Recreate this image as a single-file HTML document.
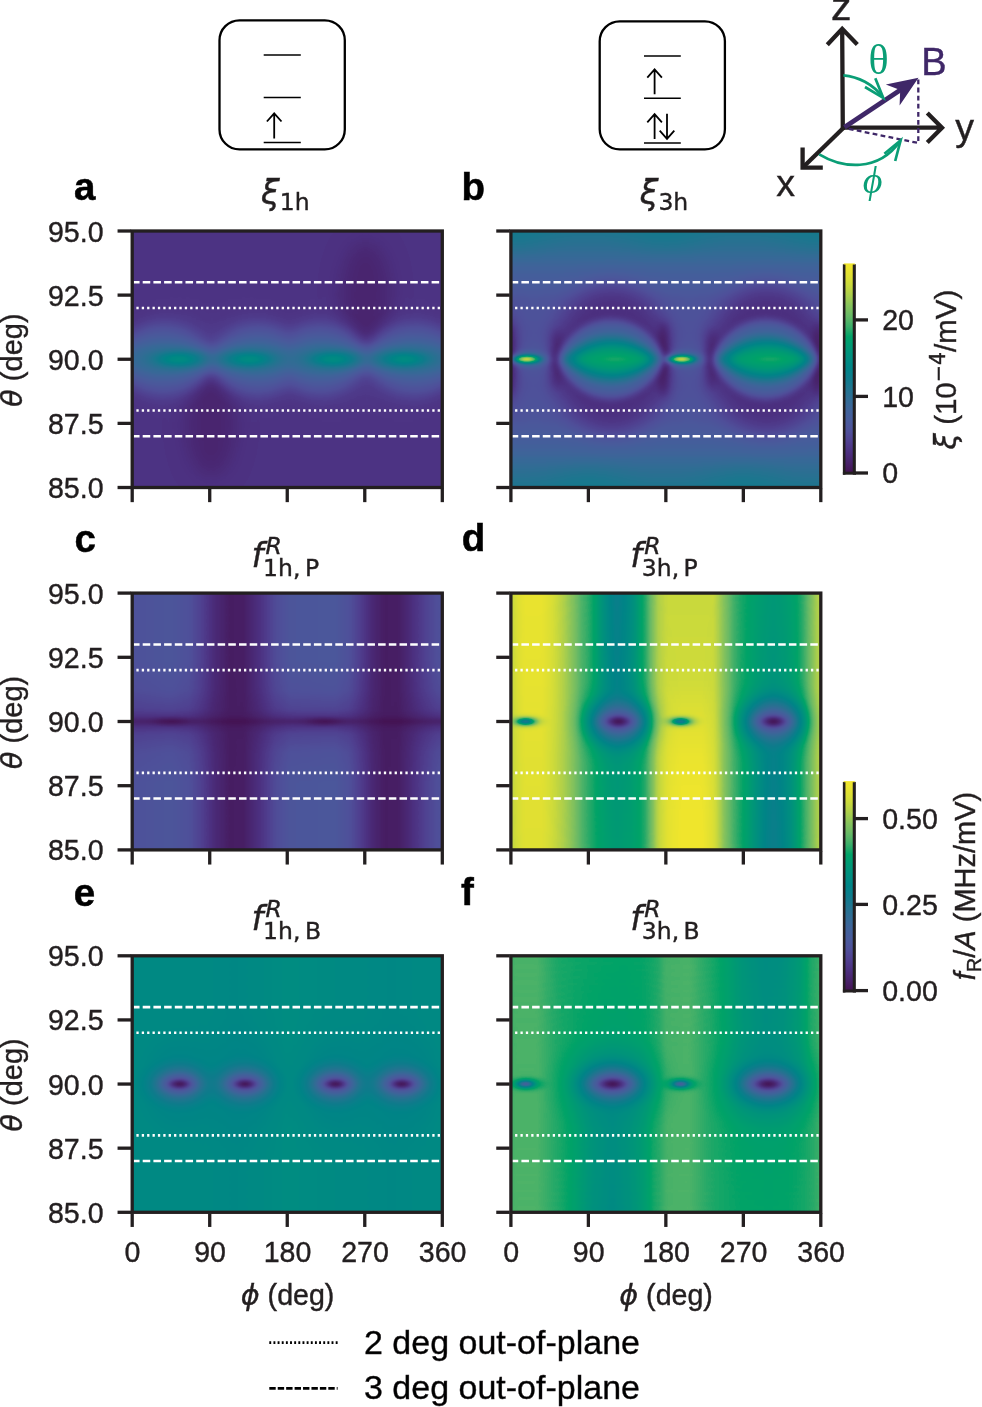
<!DOCTYPE html>
<html lang="en"><head><meta charset="utf-8"><title>Figure</title>
<style>
html,body{margin:0;padding:0;background:#fff;}
body{width:982px;height:1407px;overflow:hidden;}
svg{display:block;}
text{font-family:"Liberation Sans",sans-serif;fill:#231f20;stroke:#231f20;stroke-width:0.4px;}
.dj{font-family:"DejaVu Sans",sans-serif;}
.dji{font-family:"DejaVu Sans",sans-serif;font-style:italic;}
.ser{font-family:"Liberation Serif",serif;}
</style></head><body>
<svg width="982" height="1407" viewBox="0 0 982 1407">
<defs>
<filter id="cm" filterUnits="userSpaceOnUse" x="0" y="0" width="982" height="1407" color-interpolation-filters="sRGB">
<feGaussianBlur stdDeviation="1.5"/>
<feComponentTransfer><feFuncR type="table" tableValues="0.2667 0.2745 0.2824 0.2902 0.2980 0.3059 0.3137 0.3137 0.3098 0.2980 0.2863 0.2667 0.2510 0.2235 0.1961 0.1647 0.1333 0.0980 0.0588 0.0314 0.0000 0.0000 0.0000 0.0000 0.0000 0.0000 0.0000 0.1176 0.2353 0.3216 0.4039 0.4667 0.5294 0.6000 0.6745 0.7373 0.7961 0.8431 0.8863 0.9176 0.9490"/><feFuncG type="table" tableValues="0.0706 0.1020 0.1333 0.1608 0.1882 0.2196 0.2510 0.2824 0.3137 0.3373 0.3569 0.3725 0.3882 0.4078 0.4235 0.4392 0.4549 0.4706 0.4824 0.5020 0.5176 0.5373 0.5569 0.5765 0.5961 0.6196 0.6392 0.6588 0.6824 0.7059 0.7255 0.7451 0.7647 0.7882 0.8118 0.8314 0.8549 0.8706 0.8824 0.8941 0.9020"/><feFuncB type="table" tableValues="0.3216 0.3686 0.4157 0.4588 0.5020 0.5333 0.5647 0.5843 0.6039 0.6078 0.6118 0.6078 0.6039 0.5961 0.5843 0.5725 0.5647 0.5569 0.5490 0.5412 0.5294 0.5176 0.5020 0.4824 0.4627 0.4353 0.4078 0.4078 0.4118 0.4078 0.4000 0.3804 0.3608 0.3294 0.2980 0.2667 0.2353 0.2157 0.1961 0.1843 0.1725"/><feFuncA type="linear" slope="0" intercept="1"/></feComponentTransfer>
</filter>
<filter id="b1" filterUnits="userSpaceOnUse" x="0" y="0" width="982" height="1407" color-interpolation-filters="sRGB"><feGaussianBlur stdDeviation="1"/></filter>
<filter id="b2" filterUnits="userSpaceOnUse" x="0" y="0" width="982" height="1407" color-interpolation-filters="sRGB"><feGaussianBlur stdDeviation="2"/></filter>
<filter id="b3" filterUnits="userSpaceOnUse" x="0" y="0" width="982" height="1407" color-interpolation-filters="sRGB"><feGaussianBlur stdDeviation="3"/></filter>
<filter id="b4" filterUnits="userSpaceOnUse" x="0" y="0" width="982" height="1407" color-interpolation-filters="sRGB"><feGaussianBlur stdDeviation="4"/></filter>
<filter id="b5" filterUnits="userSpaceOnUse" x="0" y="0" width="982" height="1407" color-interpolation-filters="sRGB"><feGaussianBlur stdDeviation="5"/></filter>
<filter id="b6" filterUnits="userSpaceOnUse" x="0" y="0" width="982" height="1407" color-interpolation-filters="sRGB"><feGaussianBlur stdDeviation="6"/></filter>
<filter id="b7" filterUnits="userSpaceOnUse" x="0" y="0" width="982" height="1407" color-interpolation-filters="sRGB"><feGaussianBlur stdDeviation="7"/></filter>
<filter id="b8" filterUnits="userSpaceOnUse" x="0" y="0" width="982" height="1407" color-interpolation-filters="sRGB"><feGaussianBlur stdDeviation="8"/></filter>
<filter id="b9" filterUnits="userSpaceOnUse" x="0" y="0" width="982" height="1407" color-interpolation-filters="sRGB"><feGaussianBlur stdDeviation="9"/></filter>
<filter id="b10" filterUnits="userSpaceOnUse" x="0" y="0" width="982" height="1407" color-interpolation-filters="sRGB"><feGaussianBlur stdDeviation="10"/></filter>
<filter id="b11" filterUnits="userSpaceOnUse" x="0" y="0" width="982" height="1407" color-interpolation-filters="sRGB"><feGaussianBlur stdDeviation="11"/></filter>
<filter id="b12" filterUnits="userSpaceOnUse" x="0" y="0" width="982" height="1407" color-interpolation-filters="sRGB"><feGaussianBlur stdDeviation="12"/></filter>
<filter id="b13" filterUnits="userSpaceOnUse" x="0" y="0" width="982" height="1407" color-interpolation-filters="sRGB"><feGaussianBlur stdDeviation="13"/></filter>
<filter id="b14" filterUnits="userSpaceOnUse" x="0" y="0" width="982" height="1407" color-interpolation-filters="sRGB"><feGaussianBlur stdDeviation="14"/></filter>
<filter id="b15" filterUnits="userSpaceOnUse" x="0" y="0" width="982" height="1407" color-interpolation-filters="sRGB"><feGaussianBlur stdDeviation="15"/></filter>
<radialGradient id="rg1"><stop offset="0.000" stop-color="rgb(57,57,57)" stop-opacity="0.400"/><stop offset="0.125" stop-color="rgb(57,57,57)" stop-opacity="0.383"/><stop offset="0.250" stop-color="rgb(57,57,57)" stop-opacity="0.335"/><stop offset="0.375" stop-color="rgb(57,57,57)" stop-opacity="0.265"/><stop offset="0.500" stop-color="rgb(57,57,57)" stop-opacity="0.187"/><stop offset="0.625" stop-color="rgb(57,57,57)" stop-opacity="0.115"/><stop offset="0.750" stop-color="rgb(57,57,57)" stop-opacity="0.057"/><stop offset="0.875" stop-color="rgb(57,57,57)" stop-opacity="0.020"/><stop offset="1.000" stop-color="rgb(57,57,57)" stop-opacity="0.000"/></radialGradient>
<radialGradient id="rg2"><stop offset="0.000" stop-color="rgb(57,57,57)" stop-opacity="0.400"/><stop offset="0.125" stop-color="rgb(57,57,57)" stop-opacity="0.383"/><stop offset="0.250" stop-color="rgb(57,57,57)" stop-opacity="0.335"/><stop offset="0.375" stop-color="rgb(57,57,57)" stop-opacity="0.265"/><stop offset="0.500" stop-color="rgb(57,57,57)" stop-opacity="0.187"/><stop offset="0.625" stop-color="rgb(57,57,57)" stop-opacity="0.115"/><stop offset="0.750" stop-color="rgb(57,57,57)" stop-opacity="0.057"/><stop offset="0.875" stop-color="rgb(57,57,57)" stop-opacity="0.020"/><stop offset="1.000" stop-color="rgb(57,57,57)" stop-opacity="0.000"/></radialGradient>
<radialGradient id="rg3"><stop offset="0.000" stop-color="rgb(57,57,57)" stop-opacity="0.400"/><stop offset="0.125" stop-color="rgb(57,57,57)" stop-opacity="0.383"/><stop offset="0.250" stop-color="rgb(57,57,57)" stop-opacity="0.335"/><stop offset="0.375" stop-color="rgb(57,57,57)" stop-opacity="0.265"/><stop offset="0.500" stop-color="rgb(57,57,57)" stop-opacity="0.187"/><stop offset="0.625" stop-color="rgb(57,57,57)" stop-opacity="0.115"/><stop offset="0.750" stop-color="rgb(57,57,57)" stop-opacity="0.057"/><stop offset="0.875" stop-color="rgb(57,57,57)" stop-opacity="0.020"/><stop offset="1.000" stop-color="rgb(57,57,57)" stop-opacity="0.000"/></radialGradient>
<radialGradient id="rg4"><stop offset="0.000" stop-color="rgb(57,57,57)" stop-opacity="0.400"/><stop offset="0.125" stop-color="rgb(57,57,57)" stop-opacity="0.383"/><stop offset="0.250" stop-color="rgb(57,57,57)" stop-opacity="0.335"/><stop offset="0.375" stop-color="rgb(57,57,57)" stop-opacity="0.265"/><stop offset="0.500" stop-color="rgb(57,57,57)" stop-opacity="0.187"/><stop offset="0.625" stop-color="rgb(57,57,57)" stop-opacity="0.115"/><stop offset="0.750" stop-color="rgb(57,57,57)" stop-opacity="0.057"/><stop offset="0.875" stop-color="rgb(57,57,57)" stop-opacity="0.020"/><stop offset="1.000" stop-color="rgb(57,57,57)" stop-opacity="0.000"/></radialGradient>
<radialGradient id="rg5"><stop offset="0.000" stop-color="rgb(104,104,104)" stop-opacity="0.900"/><stop offset="0.125" stop-color="rgb(104,104,104)" stop-opacity="0.845"/><stop offset="0.250" stop-color="rgb(104,104,104)" stop-opacity="0.698"/><stop offset="0.375" stop-color="rgb(104,104,104)" stop-opacity="0.503"/><stop offset="0.500" stop-color="rgb(104,104,104)" stop-opacity="0.310"/><stop offset="0.625" stop-color="rgb(104,104,104)" stop-opacity="0.160"/><stop offset="0.750" stop-color="rgb(104,104,104)" stop-opacity="0.065"/><stop offset="0.875" stop-color="rgb(104,104,104)" stop-opacity="0.017"/><stop offset="1.000" stop-color="rgb(104,104,104)" stop-opacity="0.000"/></radialGradient>
<radialGradient id="rg6"><stop offset="0.000" stop-color="rgb(141,141,141)" stop-opacity="0.950"/><stop offset="0.125" stop-color="rgb(141,141,141)" stop-opacity="0.892"/><stop offset="0.250" stop-color="rgb(141,141,141)" stop-opacity="0.737"/><stop offset="0.375" stop-color="rgb(141,141,141)" stop-opacity="0.531"/><stop offset="0.500" stop-color="rgb(141,141,141)" stop-opacity="0.328"/><stop offset="0.625" stop-color="rgb(141,141,141)" stop-opacity="0.169"/><stop offset="0.750" stop-color="rgb(141,141,141)" stop-opacity="0.068"/><stop offset="0.875" stop-color="rgb(141,141,141)" stop-opacity="0.018"/><stop offset="1.000" stop-color="rgb(141,141,141)" stop-opacity="0.000"/></radialGradient>
<radialGradient id="rg7"><stop offset="0.000" stop-color="rgb(104,104,104)" stop-opacity="0.900"/><stop offset="0.125" stop-color="rgb(104,104,104)" stop-opacity="0.845"/><stop offset="0.250" stop-color="rgb(104,104,104)" stop-opacity="0.698"/><stop offset="0.375" stop-color="rgb(104,104,104)" stop-opacity="0.503"/><stop offset="0.500" stop-color="rgb(104,104,104)" stop-opacity="0.310"/><stop offset="0.625" stop-color="rgb(104,104,104)" stop-opacity="0.160"/><stop offset="0.750" stop-color="rgb(104,104,104)" stop-opacity="0.065"/><stop offset="0.875" stop-color="rgb(104,104,104)" stop-opacity="0.017"/><stop offset="1.000" stop-color="rgb(104,104,104)" stop-opacity="0.000"/></radialGradient>
<radialGradient id="rg8"><stop offset="0.000" stop-color="rgb(141,141,141)" stop-opacity="0.950"/><stop offset="0.125" stop-color="rgb(141,141,141)" stop-opacity="0.892"/><stop offset="0.250" stop-color="rgb(141,141,141)" stop-opacity="0.737"/><stop offset="0.375" stop-color="rgb(141,141,141)" stop-opacity="0.531"/><stop offset="0.500" stop-color="rgb(141,141,141)" stop-opacity="0.328"/><stop offset="0.625" stop-color="rgb(141,141,141)" stop-opacity="0.169"/><stop offset="0.750" stop-color="rgb(141,141,141)" stop-opacity="0.068"/><stop offset="0.875" stop-color="rgb(141,141,141)" stop-opacity="0.018"/><stop offset="1.000" stop-color="rgb(141,141,141)" stop-opacity="0.000"/></radialGradient>
<radialGradient id="rg9"><stop offset="0.000" stop-color="rgb(104,104,104)" stop-opacity="0.900"/><stop offset="0.125" stop-color="rgb(104,104,104)" stop-opacity="0.845"/><stop offset="0.250" stop-color="rgb(104,104,104)" stop-opacity="0.698"/><stop offset="0.375" stop-color="rgb(104,104,104)" stop-opacity="0.503"/><stop offset="0.500" stop-color="rgb(104,104,104)" stop-opacity="0.310"/><stop offset="0.625" stop-color="rgb(104,104,104)" stop-opacity="0.160"/><stop offset="0.750" stop-color="rgb(104,104,104)" stop-opacity="0.065"/><stop offset="0.875" stop-color="rgb(104,104,104)" stop-opacity="0.017"/><stop offset="1.000" stop-color="rgb(104,104,104)" stop-opacity="0.000"/></radialGradient>
<radialGradient id="rg10"><stop offset="0.000" stop-color="rgb(141,141,141)" stop-opacity="0.950"/><stop offset="0.125" stop-color="rgb(141,141,141)" stop-opacity="0.892"/><stop offset="0.250" stop-color="rgb(141,141,141)" stop-opacity="0.737"/><stop offset="0.375" stop-color="rgb(141,141,141)" stop-opacity="0.531"/><stop offset="0.500" stop-color="rgb(141,141,141)" stop-opacity="0.328"/><stop offset="0.625" stop-color="rgb(141,141,141)" stop-opacity="0.169"/><stop offset="0.750" stop-color="rgb(141,141,141)" stop-opacity="0.068"/><stop offset="0.875" stop-color="rgb(141,141,141)" stop-opacity="0.018"/><stop offset="1.000" stop-color="rgb(141,141,141)" stop-opacity="0.000"/></radialGradient>
<radialGradient id="rg11"><stop offset="0.000" stop-color="rgb(104,104,104)" stop-opacity="0.900"/><stop offset="0.125" stop-color="rgb(104,104,104)" stop-opacity="0.845"/><stop offset="0.250" stop-color="rgb(104,104,104)" stop-opacity="0.698"/><stop offset="0.375" stop-color="rgb(104,104,104)" stop-opacity="0.503"/><stop offset="0.500" stop-color="rgb(104,104,104)" stop-opacity="0.310"/><stop offset="0.625" stop-color="rgb(104,104,104)" stop-opacity="0.160"/><stop offset="0.750" stop-color="rgb(104,104,104)" stop-opacity="0.065"/><stop offset="0.875" stop-color="rgb(104,104,104)" stop-opacity="0.017"/><stop offset="1.000" stop-color="rgb(104,104,104)" stop-opacity="0.000"/></radialGradient>
<radialGradient id="rg12"><stop offset="0.000" stop-color="rgb(141,141,141)" stop-opacity="0.950"/><stop offset="0.125" stop-color="rgb(141,141,141)" stop-opacity="0.892"/><stop offset="0.250" stop-color="rgb(141,141,141)" stop-opacity="0.737"/><stop offset="0.375" stop-color="rgb(141,141,141)" stop-opacity="0.531"/><stop offset="0.500" stop-color="rgb(141,141,141)" stop-opacity="0.328"/><stop offset="0.625" stop-color="rgb(141,141,141)" stop-opacity="0.169"/><stop offset="0.750" stop-color="rgb(141,141,141)" stop-opacity="0.068"/><stop offset="0.875" stop-color="rgb(141,141,141)" stop-opacity="0.018"/><stop offset="1.000" stop-color="rgb(141,141,141)" stop-opacity="0.000"/></radialGradient>
<clipPath id="cp00"><rect x="132.2" y="231.0" width="310.1" height="256.5"/></clipPath>
<linearGradient id="lg13" gradientUnits="userSpaceOnUse" x1="0" y1="231.0" x2="0" y2="487.5"><stop offset="0.0000" stop-color="rgb(105,105,105)"/><stop offset="0.0700" stop-color="rgb(92,92,92)"/><stop offset="0.1700" stop-color="rgb(70,70,70)"/><stop offset="0.2700" stop-color="rgb(56,56,56)"/><stop offset="0.5000" stop-color="rgb(52,52,52)"/><stop offset="0.7300" stop-color="rgb(56,56,56)"/><stop offset="0.8300" stop-color="rgb(70,70,70)"/><stop offset="0.9300" stop-color="rgb(92,92,92)"/><stop offset="1.0000" stop-color="rgb(105,105,105)"/></linearGradient>
<radialGradient id="rg14"><stop offset="0.000" stop-color="rgb(116,116,116)" stop-opacity="0.550"/><stop offset="0.125" stop-color="rgb(116,116,116)" stop-opacity="0.527"/><stop offset="0.250" stop-color="rgb(116,116,116)" stop-opacity="0.461"/><stop offset="0.375" stop-color="rgb(116,116,116)" stop-opacity="0.365"/><stop offset="0.500" stop-color="rgb(116,116,116)" stop-opacity="0.257"/><stop offset="0.625" stop-color="rgb(116,116,116)" stop-opacity="0.157"/><stop offset="0.750" stop-color="rgb(116,116,116)" stop-opacity="0.079"/><stop offset="0.875" stop-color="rgb(116,116,116)" stop-opacity="0.027"/><stop offset="1.000" stop-color="rgb(116,116,116)" stop-opacity="0.000"/></radialGradient>
<radialGradient id="rg15"><stop offset="0.000" stop-color="rgb(116,116,116)" stop-opacity="0.550"/><stop offset="0.125" stop-color="rgb(116,116,116)" stop-opacity="0.527"/><stop offset="0.250" stop-color="rgb(116,116,116)" stop-opacity="0.461"/><stop offset="0.375" stop-color="rgb(116,116,116)" stop-opacity="0.365"/><stop offset="0.500" stop-color="rgb(116,116,116)" stop-opacity="0.257"/><stop offset="0.625" stop-color="rgb(116,116,116)" stop-opacity="0.157"/><stop offset="0.750" stop-color="rgb(116,116,116)" stop-opacity="0.079"/><stop offset="0.875" stop-color="rgb(116,116,116)" stop-opacity="0.027"/><stop offset="1.000" stop-color="rgb(116,116,116)" stop-opacity="0.000"/></radialGradient>
<radialGradient id="rg16"><stop offset="0.000" stop-color="rgb(116,116,116)" stop-opacity="0.550"/><stop offset="0.125" stop-color="rgb(116,116,116)" stop-opacity="0.527"/><stop offset="0.250" stop-color="rgb(116,116,116)" stop-opacity="0.461"/><stop offset="0.375" stop-color="rgb(116,116,116)" stop-opacity="0.365"/><stop offset="0.500" stop-color="rgb(116,116,116)" stop-opacity="0.257"/><stop offset="0.625" stop-color="rgb(116,116,116)" stop-opacity="0.157"/><stop offset="0.750" stop-color="rgb(116,116,116)" stop-opacity="0.079"/><stop offset="0.875" stop-color="rgb(116,116,116)" stop-opacity="0.027"/><stop offset="1.000" stop-color="rgb(116,116,116)" stop-opacity="0.000"/></radialGradient>
<radialGradient id="rg17"><stop offset="0.000" stop-color="rgb(116,116,116)" stop-opacity="0.550"/><stop offset="0.125" stop-color="rgb(116,116,116)" stop-opacity="0.527"/><stop offset="0.250" stop-color="rgb(116,116,116)" stop-opacity="0.461"/><stop offset="0.375" stop-color="rgb(116,116,116)" stop-opacity="0.365"/><stop offset="0.500" stop-color="rgb(116,116,116)" stop-opacity="0.257"/><stop offset="0.625" stop-color="rgb(116,116,116)" stop-opacity="0.157"/><stop offset="0.750" stop-color="rgb(116,116,116)" stop-opacity="0.079"/><stop offset="0.875" stop-color="rgb(116,116,116)" stop-opacity="0.027"/><stop offset="1.000" stop-color="rgb(116,116,116)" stop-opacity="0.000"/></radialGradient>
<radialGradient id="rg18"><stop offset="0.000" stop-color="rgb(116,116,116)" stop-opacity="0.550"/><stop offset="0.125" stop-color="rgb(116,116,116)" stop-opacity="0.527"/><stop offset="0.250" stop-color="rgb(116,116,116)" stop-opacity="0.461"/><stop offset="0.375" stop-color="rgb(116,116,116)" stop-opacity="0.365"/><stop offset="0.500" stop-color="rgb(116,116,116)" stop-opacity="0.257"/><stop offset="0.625" stop-color="rgb(116,116,116)" stop-opacity="0.157"/><stop offset="0.750" stop-color="rgb(116,116,116)" stop-opacity="0.079"/><stop offset="0.875" stop-color="rgb(116,116,116)" stop-opacity="0.027"/><stop offset="1.000" stop-color="rgb(116,116,116)" stop-opacity="0.000"/></radialGradient>
<radialGradient id="rg19"><stop offset="0.000" stop-color="rgb(60,60,60)" stop-opacity="0.900"/><stop offset="0.125" stop-color="rgb(60,60,60)" stop-opacity="0.854"/><stop offset="0.250" stop-color="rgb(60,60,60)" stop-opacity="0.729"/><stop offset="0.375" stop-color="rgb(60,60,60)" stop-opacity="0.554"/><stop offset="0.500" stop-color="rgb(60,60,60)" stop-opacity="0.369"/><stop offset="0.625" stop-color="rgb(60,60,60)" stop-opacity="0.210"/><stop offset="0.750" stop-color="rgb(60,60,60)" stop-opacity="0.096"/><stop offset="0.875" stop-color="rgb(60,60,60)" stop-opacity="0.030"/><stop offset="1.000" stop-color="rgb(60,60,60)" stop-opacity="0.000"/></radialGradient>
<radialGradient id="rg20"><stop offset="0.000" stop-color="rgb(60,60,60)" stop-opacity="0.900"/><stop offset="0.125" stop-color="rgb(60,60,60)" stop-opacity="0.854"/><stop offset="0.250" stop-color="rgb(60,60,60)" stop-opacity="0.729"/><stop offset="0.375" stop-color="rgb(60,60,60)" stop-opacity="0.554"/><stop offset="0.500" stop-color="rgb(60,60,60)" stop-opacity="0.369"/><stop offset="0.625" stop-color="rgb(60,60,60)" stop-opacity="0.210"/><stop offset="0.750" stop-color="rgb(60,60,60)" stop-opacity="0.096"/><stop offset="0.875" stop-color="rgb(60,60,60)" stop-opacity="0.030"/><stop offset="1.000" stop-color="rgb(60,60,60)" stop-opacity="0.000"/></radialGradient>
<radialGradient id="rg21"><stop offset="0.000" stop-color="rgb(177,177,177)" stop-opacity="0.700"/><stop offset="0.125" stop-color="rgb(177,177,177)" stop-opacity="0.657"/><stop offset="0.250" stop-color="rgb(177,177,177)" stop-opacity="0.543"/><stop offset="0.375" stop-color="rgb(177,177,177)" stop-opacity="0.391"/><stop offset="0.500" stop-color="rgb(177,177,177)" stop-opacity="0.241"/><stop offset="0.625" stop-color="rgb(177,177,177)" stop-opacity="0.124"/><stop offset="0.750" stop-color="rgb(177,177,177)" stop-opacity="0.050"/><stop offset="0.875" stop-color="rgb(177,177,177)" stop-opacity="0.014"/><stop offset="1.000" stop-color="rgb(177,177,177)" stop-opacity="0.000"/></radialGradient>
<radialGradient id="rg22"><stop offset="0.000" stop-color="rgb(177,177,177)" stop-opacity="0.700"/><stop offset="0.125" stop-color="rgb(177,177,177)" stop-opacity="0.657"/><stop offset="0.250" stop-color="rgb(177,177,177)" stop-opacity="0.543"/><stop offset="0.375" stop-color="rgb(177,177,177)" stop-opacity="0.391"/><stop offset="0.500" stop-color="rgb(177,177,177)" stop-opacity="0.241"/><stop offset="0.625" stop-color="rgb(177,177,177)" stop-opacity="0.124"/><stop offset="0.750" stop-color="rgb(177,177,177)" stop-opacity="0.050"/><stop offset="0.875" stop-color="rgb(177,177,177)" stop-opacity="0.014"/><stop offset="1.000" stop-color="rgb(177,177,177)" stop-opacity="0.000"/></radialGradient>
<radialGradient id="rg23"><stop offset="0.000" stop-color="rgb(135,135,135)" stop-opacity="1.000"/><stop offset="0.125" stop-color="rgb(135,135,135)" stop-opacity="0.939"/><stop offset="0.250" stop-color="rgb(135,135,135)" stop-opacity="0.776"/><stop offset="0.375" stop-color="rgb(135,135,135)" stop-opacity="0.559"/><stop offset="0.500" stop-color="rgb(135,135,135)" stop-opacity="0.345"/><stop offset="0.625" stop-color="rgb(135,135,135)" stop-opacity="0.178"/><stop offset="0.750" stop-color="rgb(135,135,135)" stop-opacity="0.072"/><stop offset="0.875" stop-color="rgb(135,135,135)" stop-opacity="0.019"/><stop offset="1.000" stop-color="rgb(135,135,135)" stop-opacity="0.000"/></radialGradient>
<radialGradient id="rg24"><stop offset="0.000" stop-color="rgb(255,255,255)" stop-opacity="1.000"/><stop offset="0.125" stop-color="rgb(255,255,255)" stop-opacity="0.939"/><stop offset="0.250" stop-color="rgb(255,255,255)" stop-opacity="0.776"/><stop offset="0.375" stop-color="rgb(255,255,255)" stop-opacity="0.559"/><stop offset="0.500" stop-color="rgb(255,255,255)" stop-opacity="0.345"/><stop offset="0.625" stop-color="rgb(255,255,255)" stop-opacity="0.178"/><stop offset="0.750" stop-color="rgb(255,255,255)" stop-opacity="0.072"/><stop offset="0.875" stop-color="rgb(255,255,255)" stop-opacity="0.019"/><stop offset="1.000" stop-color="rgb(255,255,255)" stop-opacity="0.000"/></radialGradient>
<radialGradient id="rg25"><stop offset="0.000" stop-color="rgb(135,135,135)" stop-opacity="1.000"/><stop offset="0.125" stop-color="rgb(135,135,135)" stop-opacity="0.939"/><stop offset="0.250" stop-color="rgb(135,135,135)" stop-opacity="0.776"/><stop offset="0.375" stop-color="rgb(135,135,135)" stop-opacity="0.559"/><stop offset="0.500" stop-color="rgb(135,135,135)" stop-opacity="0.345"/><stop offset="0.625" stop-color="rgb(135,135,135)" stop-opacity="0.178"/><stop offset="0.750" stop-color="rgb(135,135,135)" stop-opacity="0.072"/><stop offset="0.875" stop-color="rgb(135,135,135)" stop-opacity="0.019"/><stop offset="1.000" stop-color="rgb(135,135,135)" stop-opacity="0.000"/></radialGradient>
<radialGradient id="rg26"><stop offset="0.000" stop-color="rgb(255,255,255)" stop-opacity="1.000"/><stop offset="0.125" stop-color="rgb(255,255,255)" stop-opacity="0.939"/><stop offset="0.250" stop-color="rgb(255,255,255)" stop-opacity="0.776"/><stop offset="0.375" stop-color="rgb(255,255,255)" stop-opacity="0.559"/><stop offset="0.500" stop-color="rgb(255,255,255)" stop-opacity="0.345"/><stop offset="0.625" stop-color="rgb(255,255,255)" stop-opacity="0.178"/><stop offset="0.750" stop-color="rgb(255,255,255)" stop-opacity="0.072"/><stop offset="0.875" stop-color="rgb(255,255,255)" stop-opacity="0.019"/><stop offset="1.000" stop-color="rgb(255,255,255)" stop-opacity="0.000"/></radialGradient>
<clipPath id="cp10"><rect x="510.9" y="231.0" width="309.9" height="256.5"/></clipPath>
<linearGradient id="lg27" gradientUnits="userSpaceOnUse" x1="132.2" y1="0" x2="442.3" y2="0"><stop offset="0.0000" stop-color="rgb(53,53,53)"/><stop offset="0.1250" stop-color="rgb(57,57,57)"/><stop offset="0.1833" stop-color="rgb(52,52,52)"/><stop offset="0.2222" stop-color="rgb(39,39,39)"/><stop offset="0.2639" stop-color="rgb(21,21,21)"/><stop offset="0.3139" stop-color="rgb(9,9,9)"/><stop offset="0.3611" stop-color="rgb(10,10,10)"/><stop offset="0.4111" stop-color="rgb(26,26,26)"/><stop offset="0.4611" stop-color="rgb(47,47,47)"/><stop offset="0.5083" stop-color="rgb(57,57,57)"/><stop offset="0.6528" stop-color="rgb(59,59,59)"/><stop offset="0.7000" stop-color="rgb(52,52,52)"/><stop offset="0.7361" stop-color="rgb(36,36,36)"/><stop offset="0.7750" stop-color="rgb(18,18,18)"/><stop offset="0.8139" stop-color="rgb(9,9,9)"/><stop offset="0.8583" stop-color="rgb(10,10,10)"/><stop offset="0.9000" stop-color="rgb(23,23,23)"/><stop offset="0.9444" stop-color="rgb(39,39,39)"/><stop offset="0.9778" stop-color="rgb(49,49,49)"/><stop offset="1.0000" stop-color="rgb(53,53,53)"/></linearGradient>
<linearGradient id="lg28" x1="0" y1="0" x2="0" y2="1"><stop offset="0.0000" stop-color="rgb(8,8,8)" stop-opacity="0.000"/><stop offset="0.2500" stop-color="rgb(8,8,8)" stop-opacity="0.100"/><stop offset="0.4000" stop-color="rgb(8,8,8)" stop-opacity="0.320"/><stop offset="0.5000" stop-color="rgb(8,8,8)" stop-opacity="0.550"/><stop offset="0.6000" stop-color="rgb(8,8,8)" stop-opacity="0.320"/><stop offset="0.7500" stop-color="rgb(8,8,8)" stop-opacity="0.100"/><stop offset="1.0000" stop-color="rgb(8,8,8)" stop-opacity="0.000"/></linearGradient>
<linearGradient id="lg29" x1="0" y1="0" x2="0" y2="1"><stop offset="0.0000" stop-color="rgb(0,0,0)" stop-opacity="0.000"/><stop offset="0.3000" stop-color="rgb(0,0,0)" stop-opacity="0.200"/><stop offset="0.5000" stop-color="rgb(0,0,0)" stop-opacity="0.600"/><stop offset="0.7000" stop-color="rgb(0,0,0)" stop-opacity="0.200"/><stop offset="1.0000" stop-color="rgb(0,0,0)" stop-opacity="0.000"/></linearGradient>
<radialGradient id="rg30"><stop offset="0.000" stop-color="rgb(0,0,0)" stop-opacity="0.950"/><stop offset="0.125" stop-color="rgb(0,0,0)" stop-opacity="0.892"/><stop offset="0.250" stop-color="rgb(0,0,0)" stop-opacity="0.737"/><stop offset="0.375" stop-color="rgb(0,0,0)" stop-opacity="0.531"/><stop offset="0.500" stop-color="rgb(0,0,0)" stop-opacity="0.328"/><stop offset="0.625" stop-color="rgb(0,0,0)" stop-opacity="0.169"/><stop offset="0.750" stop-color="rgb(0,0,0)" stop-opacity="0.068"/><stop offset="0.875" stop-color="rgb(0,0,0)" stop-opacity="0.018"/><stop offset="1.000" stop-color="rgb(0,0,0)" stop-opacity="0.000"/></radialGradient>
<radialGradient id="rg31"><stop offset="0.000" stop-color="rgb(0,0,0)" stop-opacity="0.950"/><stop offset="0.125" stop-color="rgb(0,0,0)" stop-opacity="0.892"/><stop offset="0.250" stop-color="rgb(0,0,0)" stop-opacity="0.737"/><stop offset="0.375" stop-color="rgb(0,0,0)" stop-opacity="0.531"/><stop offset="0.500" stop-color="rgb(0,0,0)" stop-opacity="0.328"/><stop offset="0.625" stop-color="rgb(0,0,0)" stop-opacity="0.169"/><stop offset="0.750" stop-color="rgb(0,0,0)" stop-opacity="0.068"/><stop offset="0.875" stop-color="rgb(0,0,0)" stop-opacity="0.018"/><stop offset="1.000" stop-color="rgb(0,0,0)" stop-opacity="0.000"/></radialGradient>
<radialGradient id="rg32"><stop offset="0.000" stop-color="rgb(0,0,0)" stop-opacity="0.950"/><stop offset="0.125" stop-color="rgb(0,0,0)" stop-opacity="0.892"/><stop offset="0.250" stop-color="rgb(0,0,0)" stop-opacity="0.737"/><stop offset="0.375" stop-color="rgb(0,0,0)" stop-opacity="0.531"/><stop offset="0.500" stop-color="rgb(0,0,0)" stop-opacity="0.328"/><stop offset="0.625" stop-color="rgb(0,0,0)" stop-opacity="0.169"/><stop offset="0.750" stop-color="rgb(0,0,0)" stop-opacity="0.068"/><stop offset="0.875" stop-color="rgb(0,0,0)" stop-opacity="0.018"/><stop offset="1.000" stop-color="rgb(0,0,0)" stop-opacity="0.000"/></radialGradient>
<radialGradient id="rg33"><stop offset="0.000" stop-color="rgb(0,0,0)" stop-opacity="0.950"/><stop offset="0.125" stop-color="rgb(0,0,0)" stop-opacity="0.892"/><stop offset="0.250" stop-color="rgb(0,0,0)" stop-opacity="0.737"/><stop offset="0.375" stop-color="rgb(0,0,0)" stop-opacity="0.531"/><stop offset="0.500" stop-color="rgb(0,0,0)" stop-opacity="0.328"/><stop offset="0.625" stop-color="rgb(0,0,0)" stop-opacity="0.169"/><stop offset="0.750" stop-color="rgb(0,0,0)" stop-opacity="0.068"/><stop offset="0.875" stop-color="rgb(0,0,0)" stop-opacity="0.018"/><stop offset="1.000" stop-color="rgb(0,0,0)" stop-opacity="0.000"/></radialGradient>
<clipPath id="cp01"><rect x="132.2" y="593.1" width="310.1" height="256.8"/></clipPath>
<linearGradient id="lg34" gradientUnits="userSpaceOnUse" x1="510.9" y1="0" x2="820.8" y2="0"><stop offset="0.0000" stop-color="rgb(224,224,224)"/><stop offset="0.0194" stop-color="rgb(239,239,239)"/><stop offset="0.0444" stop-color="rgb(248,248,248)"/><stop offset="0.1000" stop-color="rgb(248,248,248)"/><stop offset="0.1333" stop-color="rgb(237,237,237)"/><stop offset="0.1667" stop-color="rgb(221,221,221)"/><stop offset="0.2000" stop-color="rgb(203,203,203)"/><stop offset="0.2278" stop-color="rgb(184,184,184)"/><stop offset="0.2528" stop-color="rgb(174,174,174)"/><stop offset="0.2750" stop-color="rgb(162,162,162)"/><stop offset="0.2972" stop-color="rgb(144,144,144)"/><stop offset="0.3194" stop-color="rgb(129,129,129)"/><stop offset="0.3417" stop-color="rgb(119,119,119)"/><stop offset="0.3694" stop-color="rgb(129,129,129)"/><stop offset="0.3972" stop-color="rgb(144,144,144)"/><stop offset="0.4167" stop-color="rgb(162,162,162)"/><stop offset="0.4361" stop-color="rgb(175,175,175)"/><stop offset="0.4556" stop-color="rgb(198,198,198)"/><stop offset="0.4750" stop-color="rgb(218,218,218)"/><stop offset="0.5056" stop-color="rgb(229,229,229)"/><stop offset="0.6528" stop-color="rgb(229,229,229)"/><stop offset="0.6889" stop-color="rgb(203,203,203)"/><stop offset="0.7194" stop-color="rgb(180,180,180)"/><stop offset="0.7444" stop-color="rgb(171,171,171)"/><stop offset="0.7778" stop-color="rgb(163,163,163)"/><stop offset="0.8111" stop-color="rgb(157,157,157)"/><stop offset="0.8472" stop-color="rgb(153,153,153)"/><stop offset="0.8889" stop-color="rgb(158,158,158)"/><stop offset="0.9222" stop-color="rgb(166,166,166)"/><stop offset="0.9444" stop-color="rgb(177,177,177)"/><stop offset="0.9667" stop-color="rgb(198,198,198)"/><stop offset="0.9861" stop-color="rgb(216,216,216)"/><stop offset="1.0000" stop-color="rgb(224,224,224)"/></linearGradient>
<linearGradient id="lg35" gradientUnits="userSpaceOnUse" x1="510.9" y1="0" x2="820.8" y2="0"><stop offset="0.0000" stop-color="rgb(221,221,221)"/><stop offset="0.0194" stop-color="rgb(234,234,234)"/><stop offset="0.0444" stop-color="rgb(241,241,241)"/><stop offset="0.1000" stop-color="rgb(241,241,241)"/><stop offset="0.1333" stop-color="rgb(231,231,231)"/><stop offset="0.1667" stop-color="rgb(218,218,218)"/><stop offset="0.2000" stop-color="rgb(203,203,203)"/><stop offset="0.2278" stop-color="rgb(184,184,184)"/><stop offset="0.2528" stop-color="rgb(174,174,174)"/><stop offset="0.2778" stop-color="rgb(166,166,166)"/><stop offset="0.3111" stop-color="rgb(159,159,159)"/><stop offset="0.3417" stop-color="rgb(156,156,156)"/><stop offset="0.3833" stop-color="rgb(159,159,159)"/><stop offset="0.4167" stop-color="rgb(166,166,166)"/><stop offset="0.4361" stop-color="rgb(175,175,175)"/><stop offset="0.4556" stop-color="rgb(198,198,198)"/><stop offset="0.4750" stop-color="rgb(224,224,224)"/><stop offset="0.5083" stop-color="rgb(245,245,245)"/><stop offset="0.5500" stop-color="rgb(254,254,254)"/><stop offset="0.6167" stop-color="rgb(254,254,254)"/><stop offset="0.6556" stop-color="rgb(237,237,237)"/><stop offset="0.6889" stop-color="rgb(203,203,203)"/><stop offset="0.7194" stop-color="rgb(180,180,180)"/><stop offset="0.7444" stop-color="rgb(168,168,168)"/><stop offset="0.7694" stop-color="rgb(157,157,157)"/><stop offset="0.7944" stop-color="rgb(141,141,141)"/><stop offset="0.8222" stop-color="rgb(125,125,125)"/><stop offset="0.8472" stop-color="rgb(117,117,117)"/><stop offset="0.8750" stop-color="rgb(125,125,125)"/><stop offset="0.9028" stop-color="rgb(141,141,141)"/><stop offset="0.9250" stop-color="rgb(159,159,159)"/><stop offset="0.9444" stop-color="rgb(174,174,174)"/><stop offset="0.9667" stop-color="rgb(193,193,193)"/><stop offset="0.9861" stop-color="rgb(213,213,213)"/><stop offset="1.0000" stop-color="rgb(221,221,221)"/></linearGradient>
<linearGradient id="m1g" x1="0" y1="0" x2="0" y2="1"><stop offset="0.000" stop-color="#fff" stop-opacity="0.000"/><stop offset="0.350" stop-color="#fff" stop-opacity="0.150"/><stop offset="0.650" stop-color="#fff" stop-opacity="0.850"/><stop offset="1.000" stop-color="#fff" stop-opacity="1.000"/></linearGradient>
<mask id="m1" maskUnits="userSpaceOnUse" x="0" y="0" width="982" height="1407"><rect x="510.9" y="593.1" width="309.9" height="256.8" fill="url(#m1g)"/></mask>
<radialGradient id="rg36"><stop offset="0.000" stop-color="rgb(116,116,116)" stop-opacity="0.800"/><stop offset="0.125" stop-color="rgb(116,116,116)" stop-opacity="0.760"/><stop offset="0.250" stop-color="rgb(116,116,116)" stop-opacity="0.648"/><stop offset="0.375" stop-color="rgb(116,116,116)" stop-opacity="0.493"/><stop offset="0.500" stop-color="rgb(116,116,116)" stop-opacity="0.328"/><stop offset="0.625" stop-color="rgb(116,116,116)" stop-opacity="0.186"/><stop offset="0.750" stop-color="rgb(116,116,116)" stop-opacity="0.085"/><stop offset="0.875" stop-color="rgb(116,116,116)" stop-opacity="0.026"/><stop offset="1.000" stop-color="rgb(116,116,116)" stop-opacity="0.000"/></radialGradient>
<radialGradient id="rg37"><stop offset="0.000" stop-color="rgb(60,60,60)" stop-opacity="1.000"/><stop offset="0.125" stop-color="rgb(60,60,60)" stop-opacity="0.949"/><stop offset="0.250" stop-color="rgb(60,60,60)" stop-opacity="0.810"/><stop offset="0.375" stop-color="rgb(60,60,60)" stop-opacity="0.616"/><stop offset="0.500" stop-color="rgb(60,60,60)" stop-opacity="0.410"/><stop offset="0.625" stop-color="rgb(60,60,60)" stop-opacity="0.233"/><stop offset="0.750" stop-color="rgb(60,60,60)" stop-opacity="0.106"/><stop offset="0.875" stop-color="rgb(60,60,60)" stop-opacity="0.033"/><stop offset="1.000" stop-color="rgb(60,60,60)" stop-opacity="0.000"/></radialGradient>
<radialGradient id="rg38"><stop offset="0.000" stop-color="rgb(29,29,29)" stop-opacity="0.800"/><stop offset="0.125" stop-color="rgb(29,29,29)" stop-opacity="0.760"/><stop offset="0.250" stop-color="rgb(29,29,29)" stop-opacity="0.648"/><stop offset="0.375" stop-color="rgb(29,29,29)" stop-opacity="0.493"/><stop offset="0.500" stop-color="rgb(29,29,29)" stop-opacity="0.328"/><stop offset="0.625" stop-color="rgb(29,29,29)" stop-opacity="0.186"/><stop offset="0.750" stop-color="rgb(29,29,29)" stop-opacity="0.085"/><stop offset="0.875" stop-color="rgb(29,29,29)" stop-opacity="0.026"/><stop offset="1.000" stop-color="rgb(29,29,29)" stop-opacity="0.000"/></radialGradient>
<radialGradient id="rg39"><stop offset="0.000" stop-color="rgb(0,0,0)" stop-opacity="1.000"/><stop offset="0.125" stop-color="rgb(0,0,0)" stop-opacity="0.949"/><stop offset="0.250" stop-color="rgb(0,0,0)" stop-opacity="0.810"/><stop offset="0.375" stop-color="rgb(0,0,0)" stop-opacity="0.616"/><stop offset="0.500" stop-color="rgb(0,0,0)" stop-opacity="0.410"/><stop offset="0.625" stop-color="rgb(0,0,0)" stop-opacity="0.233"/><stop offset="0.750" stop-color="rgb(0,0,0)" stop-opacity="0.106"/><stop offset="0.875" stop-color="rgb(0,0,0)" stop-opacity="0.033"/><stop offset="1.000" stop-color="rgb(0,0,0)" stop-opacity="0.000"/></radialGradient>
<radialGradient id="rg40"><stop offset="0.000" stop-color="rgb(116,116,116)" stop-opacity="0.800"/><stop offset="0.125" stop-color="rgb(116,116,116)" stop-opacity="0.760"/><stop offset="0.250" stop-color="rgb(116,116,116)" stop-opacity="0.648"/><stop offset="0.375" stop-color="rgb(116,116,116)" stop-opacity="0.493"/><stop offset="0.500" stop-color="rgb(116,116,116)" stop-opacity="0.328"/><stop offset="0.625" stop-color="rgb(116,116,116)" stop-opacity="0.186"/><stop offset="0.750" stop-color="rgb(116,116,116)" stop-opacity="0.085"/><stop offset="0.875" stop-color="rgb(116,116,116)" stop-opacity="0.026"/><stop offset="1.000" stop-color="rgb(116,116,116)" stop-opacity="0.000"/></radialGradient>
<radialGradient id="rg41"><stop offset="0.000" stop-color="rgb(60,60,60)" stop-opacity="1.000"/><stop offset="0.125" stop-color="rgb(60,60,60)" stop-opacity="0.949"/><stop offset="0.250" stop-color="rgb(60,60,60)" stop-opacity="0.810"/><stop offset="0.375" stop-color="rgb(60,60,60)" stop-opacity="0.616"/><stop offset="0.500" stop-color="rgb(60,60,60)" stop-opacity="0.410"/><stop offset="0.625" stop-color="rgb(60,60,60)" stop-opacity="0.233"/><stop offset="0.750" stop-color="rgb(60,60,60)" stop-opacity="0.106"/><stop offset="0.875" stop-color="rgb(60,60,60)" stop-opacity="0.033"/><stop offset="1.000" stop-color="rgb(60,60,60)" stop-opacity="0.000"/></radialGradient>
<radialGradient id="rg42"><stop offset="0.000" stop-color="rgb(29,29,29)" stop-opacity="0.800"/><stop offset="0.125" stop-color="rgb(29,29,29)" stop-opacity="0.760"/><stop offset="0.250" stop-color="rgb(29,29,29)" stop-opacity="0.648"/><stop offset="0.375" stop-color="rgb(29,29,29)" stop-opacity="0.493"/><stop offset="0.500" stop-color="rgb(29,29,29)" stop-opacity="0.328"/><stop offset="0.625" stop-color="rgb(29,29,29)" stop-opacity="0.186"/><stop offset="0.750" stop-color="rgb(29,29,29)" stop-opacity="0.085"/><stop offset="0.875" stop-color="rgb(29,29,29)" stop-opacity="0.026"/><stop offset="1.000" stop-color="rgb(29,29,29)" stop-opacity="0.000"/></radialGradient>
<radialGradient id="rg43"><stop offset="0.000" stop-color="rgb(0,0,0)" stop-opacity="1.000"/><stop offset="0.125" stop-color="rgb(0,0,0)" stop-opacity="0.949"/><stop offset="0.250" stop-color="rgb(0,0,0)" stop-opacity="0.810"/><stop offset="0.375" stop-color="rgb(0,0,0)" stop-opacity="0.616"/><stop offset="0.500" stop-color="rgb(0,0,0)" stop-opacity="0.410"/><stop offset="0.625" stop-color="rgb(0,0,0)" stop-opacity="0.233"/><stop offset="0.750" stop-color="rgb(0,0,0)" stop-opacity="0.106"/><stop offset="0.875" stop-color="rgb(0,0,0)" stop-opacity="0.033"/><stop offset="1.000" stop-color="rgb(0,0,0)" stop-opacity="0.000"/></radialGradient>
<radialGradient id="rg44"><stop offset="0.000" stop-color="rgb(162,162,162)" stop-opacity="0.900"/><stop offset="0.125" stop-color="rgb(162,162,162)" stop-opacity="0.854"/><stop offset="0.250" stop-color="rgb(162,162,162)" stop-opacity="0.729"/><stop offset="0.375" stop-color="rgb(162,162,162)" stop-opacity="0.554"/><stop offset="0.500" stop-color="rgb(162,162,162)" stop-opacity="0.369"/><stop offset="0.625" stop-color="rgb(162,162,162)" stop-opacity="0.210"/><stop offset="0.750" stop-color="rgb(162,162,162)" stop-opacity="0.096"/><stop offset="0.875" stop-color="rgb(162,162,162)" stop-opacity="0.030"/><stop offset="1.000" stop-color="rgb(162,162,162)" stop-opacity="0.000"/></radialGradient>
<radialGradient id="rg45"><stop offset="0.000" stop-color="rgb(82,82,82)" stop-opacity="1.000"/><stop offset="0.125" stop-color="rgb(82,82,82)" stop-opacity="0.949"/><stop offset="0.250" stop-color="rgb(82,82,82)" stop-opacity="0.810"/><stop offset="0.375" stop-color="rgb(82,82,82)" stop-opacity="0.616"/><stop offset="0.500" stop-color="rgb(82,82,82)" stop-opacity="0.410"/><stop offset="0.625" stop-color="rgb(82,82,82)" stop-opacity="0.233"/><stop offset="0.750" stop-color="rgb(82,82,82)" stop-opacity="0.106"/><stop offset="0.875" stop-color="rgb(82,82,82)" stop-opacity="0.033"/><stop offset="1.000" stop-color="rgb(82,82,82)" stop-opacity="0.000"/></radialGradient>
<radialGradient id="rg46"><stop offset="0.000" stop-color="rgb(162,162,162)" stop-opacity="0.900"/><stop offset="0.125" stop-color="rgb(162,162,162)" stop-opacity="0.854"/><stop offset="0.250" stop-color="rgb(162,162,162)" stop-opacity="0.729"/><stop offset="0.375" stop-color="rgb(162,162,162)" stop-opacity="0.554"/><stop offset="0.500" stop-color="rgb(162,162,162)" stop-opacity="0.369"/><stop offset="0.625" stop-color="rgb(162,162,162)" stop-opacity="0.210"/><stop offset="0.750" stop-color="rgb(162,162,162)" stop-opacity="0.096"/><stop offset="0.875" stop-color="rgb(162,162,162)" stop-opacity="0.030"/><stop offset="1.000" stop-color="rgb(162,162,162)" stop-opacity="0.000"/></radialGradient>
<radialGradient id="rg47"><stop offset="0.000" stop-color="rgb(82,82,82)" stop-opacity="1.000"/><stop offset="0.125" stop-color="rgb(82,82,82)" stop-opacity="0.949"/><stop offset="0.250" stop-color="rgb(82,82,82)" stop-opacity="0.810"/><stop offset="0.375" stop-color="rgb(82,82,82)" stop-opacity="0.616"/><stop offset="0.500" stop-color="rgb(82,82,82)" stop-opacity="0.410"/><stop offset="0.625" stop-color="rgb(82,82,82)" stop-opacity="0.233"/><stop offset="0.750" stop-color="rgb(82,82,82)" stop-opacity="0.106"/><stop offset="0.875" stop-color="rgb(82,82,82)" stop-opacity="0.033"/><stop offset="1.000" stop-color="rgb(82,82,82)" stop-opacity="0.000"/></radialGradient>
<clipPath id="cp11"><rect x="510.9" y="593.1" width="309.9" height="256.8"/></clipPath>
<linearGradient id="lg48" gradientUnits="userSpaceOnUse" x1="132.2" y1="0" x2="442.3" y2="0"><stop offset="0.0000" stop-color="rgb(135,135,135)"/><stop offset="0.1667" stop-color="rgb(135,135,135)"/><stop offset="0.3333" stop-color="rgb(132,132,132)"/><stop offset="0.5000" stop-color="rgb(138,138,138)"/><stop offset="0.6667" stop-color="rgb(135,135,135)"/><stop offset="0.8333" stop-color="rgb(132,132,132)"/><stop offset="1.0000" stop-color="rgb(135,135,135)"/></linearGradient>
<radialGradient id="rg49"><stop offset="0.000" stop-color="rgb(122,122,122)" stop-opacity="0.800"/><stop offset="0.125" stop-color="rgb(122,122,122)" stop-opacity="0.760"/><stop offset="0.250" stop-color="rgb(122,122,122)" stop-opacity="0.648"/><stop offset="0.375" stop-color="rgb(122,122,122)" stop-opacity="0.493"/><stop offset="0.500" stop-color="rgb(122,122,122)" stop-opacity="0.328"/><stop offset="0.625" stop-color="rgb(122,122,122)" stop-opacity="0.186"/><stop offset="0.750" stop-color="rgb(122,122,122)" stop-opacity="0.085"/><stop offset="0.875" stop-color="rgb(122,122,122)" stop-opacity="0.026"/><stop offset="1.000" stop-color="rgb(122,122,122)" stop-opacity="0.000"/></radialGradient>
<radialGradient id="rg50"><stop offset="0.000" stop-color="rgb(65,65,65)" stop-opacity="1.000"/><stop offset="0.125" stop-color="rgb(65,65,65)" stop-opacity="0.949"/><stop offset="0.250" stop-color="rgb(65,65,65)" stop-opacity="0.810"/><stop offset="0.375" stop-color="rgb(65,65,65)" stop-opacity="0.616"/><stop offset="0.500" stop-color="rgb(65,65,65)" stop-opacity="0.410"/><stop offset="0.625" stop-color="rgb(65,65,65)" stop-opacity="0.233"/><stop offset="0.750" stop-color="rgb(65,65,65)" stop-opacity="0.106"/><stop offset="0.875" stop-color="rgb(65,65,65)" stop-opacity="0.033"/><stop offset="1.000" stop-color="rgb(65,65,65)" stop-opacity="0.000"/></radialGradient>
<radialGradient id="rg51"><stop offset="0.000" stop-color="rgb(31,31,31)" stop-opacity="0.800"/><stop offset="0.125" stop-color="rgb(31,31,31)" stop-opacity="0.760"/><stop offset="0.250" stop-color="rgb(31,31,31)" stop-opacity="0.648"/><stop offset="0.375" stop-color="rgb(31,31,31)" stop-opacity="0.493"/><stop offset="0.500" stop-color="rgb(31,31,31)" stop-opacity="0.328"/><stop offset="0.625" stop-color="rgb(31,31,31)" stop-opacity="0.186"/><stop offset="0.750" stop-color="rgb(31,31,31)" stop-opacity="0.085"/><stop offset="0.875" stop-color="rgb(31,31,31)" stop-opacity="0.026"/><stop offset="1.000" stop-color="rgb(31,31,31)" stop-opacity="0.000"/></radialGradient>
<radialGradient id="rg52"><stop offset="0.000" stop-color="rgb(0,0,0)" stop-opacity="1.000"/><stop offset="0.125" stop-color="rgb(0,0,0)" stop-opacity="0.949"/><stop offset="0.250" stop-color="rgb(0,0,0)" stop-opacity="0.810"/><stop offset="0.375" stop-color="rgb(0,0,0)" stop-opacity="0.616"/><stop offset="0.500" stop-color="rgb(0,0,0)" stop-opacity="0.410"/><stop offset="0.625" stop-color="rgb(0,0,0)" stop-opacity="0.233"/><stop offset="0.750" stop-color="rgb(0,0,0)" stop-opacity="0.106"/><stop offset="0.875" stop-color="rgb(0,0,0)" stop-opacity="0.033"/><stop offset="1.000" stop-color="rgb(0,0,0)" stop-opacity="0.000"/></radialGradient>
<radialGradient id="rg53"><stop offset="0.000" stop-color="rgb(122,122,122)" stop-opacity="0.800"/><stop offset="0.125" stop-color="rgb(122,122,122)" stop-opacity="0.760"/><stop offset="0.250" stop-color="rgb(122,122,122)" stop-opacity="0.648"/><stop offset="0.375" stop-color="rgb(122,122,122)" stop-opacity="0.493"/><stop offset="0.500" stop-color="rgb(122,122,122)" stop-opacity="0.328"/><stop offset="0.625" stop-color="rgb(122,122,122)" stop-opacity="0.186"/><stop offset="0.750" stop-color="rgb(122,122,122)" stop-opacity="0.085"/><stop offset="0.875" stop-color="rgb(122,122,122)" stop-opacity="0.026"/><stop offset="1.000" stop-color="rgb(122,122,122)" stop-opacity="0.000"/></radialGradient>
<radialGradient id="rg54"><stop offset="0.000" stop-color="rgb(65,65,65)" stop-opacity="1.000"/><stop offset="0.125" stop-color="rgb(65,65,65)" stop-opacity="0.949"/><stop offset="0.250" stop-color="rgb(65,65,65)" stop-opacity="0.810"/><stop offset="0.375" stop-color="rgb(65,65,65)" stop-opacity="0.616"/><stop offset="0.500" stop-color="rgb(65,65,65)" stop-opacity="0.410"/><stop offset="0.625" stop-color="rgb(65,65,65)" stop-opacity="0.233"/><stop offset="0.750" stop-color="rgb(65,65,65)" stop-opacity="0.106"/><stop offset="0.875" stop-color="rgb(65,65,65)" stop-opacity="0.033"/><stop offset="1.000" stop-color="rgb(65,65,65)" stop-opacity="0.000"/></radialGradient>
<radialGradient id="rg55"><stop offset="0.000" stop-color="rgb(31,31,31)" stop-opacity="0.800"/><stop offset="0.125" stop-color="rgb(31,31,31)" stop-opacity="0.760"/><stop offset="0.250" stop-color="rgb(31,31,31)" stop-opacity="0.648"/><stop offset="0.375" stop-color="rgb(31,31,31)" stop-opacity="0.493"/><stop offset="0.500" stop-color="rgb(31,31,31)" stop-opacity="0.328"/><stop offset="0.625" stop-color="rgb(31,31,31)" stop-opacity="0.186"/><stop offset="0.750" stop-color="rgb(31,31,31)" stop-opacity="0.085"/><stop offset="0.875" stop-color="rgb(31,31,31)" stop-opacity="0.026"/><stop offset="1.000" stop-color="rgb(31,31,31)" stop-opacity="0.000"/></radialGradient>
<radialGradient id="rg56"><stop offset="0.000" stop-color="rgb(0,0,0)" stop-opacity="1.000"/><stop offset="0.125" stop-color="rgb(0,0,0)" stop-opacity="0.949"/><stop offset="0.250" stop-color="rgb(0,0,0)" stop-opacity="0.810"/><stop offset="0.375" stop-color="rgb(0,0,0)" stop-opacity="0.616"/><stop offset="0.500" stop-color="rgb(0,0,0)" stop-opacity="0.410"/><stop offset="0.625" stop-color="rgb(0,0,0)" stop-opacity="0.233"/><stop offset="0.750" stop-color="rgb(0,0,0)" stop-opacity="0.106"/><stop offset="0.875" stop-color="rgb(0,0,0)" stop-opacity="0.033"/><stop offset="1.000" stop-color="rgb(0,0,0)" stop-opacity="0.000"/></radialGradient>
<radialGradient id="rg57"><stop offset="0.000" stop-color="rgb(122,122,122)" stop-opacity="0.800"/><stop offset="0.125" stop-color="rgb(122,122,122)" stop-opacity="0.760"/><stop offset="0.250" stop-color="rgb(122,122,122)" stop-opacity="0.648"/><stop offset="0.375" stop-color="rgb(122,122,122)" stop-opacity="0.493"/><stop offset="0.500" stop-color="rgb(122,122,122)" stop-opacity="0.328"/><stop offset="0.625" stop-color="rgb(122,122,122)" stop-opacity="0.186"/><stop offset="0.750" stop-color="rgb(122,122,122)" stop-opacity="0.085"/><stop offset="0.875" stop-color="rgb(122,122,122)" stop-opacity="0.026"/><stop offset="1.000" stop-color="rgb(122,122,122)" stop-opacity="0.000"/></radialGradient>
<radialGradient id="rg58"><stop offset="0.000" stop-color="rgb(65,65,65)" stop-opacity="1.000"/><stop offset="0.125" stop-color="rgb(65,65,65)" stop-opacity="0.949"/><stop offset="0.250" stop-color="rgb(65,65,65)" stop-opacity="0.810"/><stop offset="0.375" stop-color="rgb(65,65,65)" stop-opacity="0.616"/><stop offset="0.500" stop-color="rgb(65,65,65)" stop-opacity="0.410"/><stop offset="0.625" stop-color="rgb(65,65,65)" stop-opacity="0.233"/><stop offset="0.750" stop-color="rgb(65,65,65)" stop-opacity="0.106"/><stop offset="0.875" stop-color="rgb(65,65,65)" stop-opacity="0.033"/><stop offset="1.000" stop-color="rgb(65,65,65)" stop-opacity="0.000"/></radialGradient>
<radialGradient id="rg59"><stop offset="0.000" stop-color="rgb(31,31,31)" stop-opacity="0.800"/><stop offset="0.125" stop-color="rgb(31,31,31)" stop-opacity="0.760"/><stop offset="0.250" stop-color="rgb(31,31,31)" stop-opacity="0.648"/><stop offset="0.375" stop-color="rgb(31,31,31)" stop-opacity="0.493"/><stop offset="0.500" stop-color="rgb(31,31,31)" stop-opacity="0.328"/><stop offset="0.625" stop-color="rgb(31,31,31)" stop-opacity="0.186"/><stop offset="0.750" stop-color="rgb(31,31,31)" stop-opacity="0.085"/><stop offset="0.875" stop-color="rgb(31,31,31)" stop-opacity="0.026"/><stop offset="1.000" stop-color="rgb(31,31,31)" stop-opacity="0.000"/></radialGradient>
<radialGradient id="rg60"><stop offset="0.000" stop-color="rgb(0,0,0)" stop-opacity="1.000"/><stop offset="0.125" stop-color="rgb(0,0,0)" stop-opacity="0.949"/><stop offset="0.250" stop-color="rgb(0,0,0)" stop-opacity="0.810"/><stop offset="0.375" stop-color="rgb(0,0,0)" stop-opacity="0.616"/><stop offset="0.500" stop-color="rgb(0,0,0)" stop-opacity="0.410"/><stop offset="0.625" stop-color="rgb(0,0,0)" stop-opacity="0.233"/><stop offset="0.750" stop-color="rgb(0,0,0)" stop-opacity="0.106"/><stop offset="0.875" stop-color="rgb(0,0,0)" stop-opacity="0.033"/><stop offset="1.000" stop-color="rgb(0,0,0)" stop-opacity="0.000"/></radialGradient>
<radialGradient id="rg61"><stop offset="0.000" stop-color="rgb(122,122,122)" stop-opacity="0.800"/><stop offset="0.125" stop-color="rgb(122,122,122)" stop-opacity="0.760"/><stop offset="0.250" stop-color="rgb(122,122,122)" stop-opacity="0.648"/><stop offset="0.375" stop-color="rgb(122,122,122)" stop-opacity="0.493"/><stop offset="0.500" stop-color="rgb(122,122,122)" stop-opacity="0.328"/><stop offset="0.625" stop-color="rgb(122,122,122)" stop-opacity="0.186"/><stop offset="0.750" stop-color="rgb(122,122,122)" stop-opacity="0.085"/><stop offset="0.875" stop-color="rgb(122,122,122)" stop-opacity="0.026"/><stop offset="1.000" stop-color="rgb(122,122,122)" stop-opacity="0.000"/></radialGradient>
<radialGradient id="rg62"><stop offset="0.000" stop-color="rgb(65,65,65)" stop-opacity="1.000"/><stop offset="0.125" stop-color="rgb(65,65,65)" stop-opacity="0.949"/><stop offset="0.250" stop-color="rgb(65,65,65)" stop-opacity="0.810"/><stop offset="0.375" stop-color="rgb(65,65,65)" stop-opacity="0.616"/><stop offset="0.500" stop-color="rgb(65,65,65)" stop-opacity="0.410"/><stop offset="0.625" stop-color="rgb(65,65,65)" stop-opacity="0.233"/><stop offset="0.750" stop-color="rgb(65,65,65)" stop-opacity="0.106"/><stop offset="0.875" stop-color="rgb(65,65,65)" stop-opacity="0.033"/><stop offset="1.000" stop-color="rgb(65,65,65)" stop-opacity="0.000"/></radialGradient>
<radialGradient id="rg63"><stop offset="0.000" stop-color="rgb(31,31,31)" stop-opacity="0.800"/><stop offset="0.125" stop-color="rgb(31,31,31)" stop-opacity="0.760"/><stop offset="0.250" stop-color="rgb(31,31,31)" stop-opacity="0.648"/><stop offset="0.375" stop-color="rgb(31,31,31)" stop-opacity="0.493"/><stop offset="0.500" stop-color="rgb(31,31,31)" stop-opacity="0.328"/><stop offset="0.625" stop-color="rgb(31,31,31)" stop-opacity="0.186"/><stop offset="0.750" stop-color="rgb(31,31,31)" stop-opacity="0.085"/><stop offset="0.875" stop-color="rgb(31,31,31)" stop-opacity="0.026"/><stop offset="1.000" stop-color="rgb(31,31,31)" stop-opacity="0.000"/></radialGradient>
<radialGradient id="rg64"><stop offset="0.000" stop-color="rgb(0,0,0)" stop-opacity="1.000"/><stop offset="0.125" stop-color="rgb(0,0,0)" stop-opacity="0.949"/><stop offset="0.250" stop-color="rgb(0,0,0)" stop-opacity="0.810"/><stop offset="0.375" stop-color="rgb(0,0,0)" stop-opacity="0.616"/><stop offset="0.500" stop-color="rgb(0,0,0)" stop-opacity="0.410"/><stop offset="0.625" stop-color="rgb(0,0,0)" stop-opacity="0.233"/><stop offset="0.750" stop-color="rgb(0,0,0)" stop-opacity="0.106"/><stop offset="0.875" stop-color="rgb(0,0,0)" stop-opacity="0.033"/><stop offset="1.000" stop-color="rgb(0,0,0)" stop-opacity="0.000"/></radialGradient>
<clipPath id="cp02"><rect x="132.2" y="955.8" width="310.1" height="256.5"/></clipPath>
<linearGradient id="lg65" gradientUnits="userSpaceOnUse" x1="510.9" y1="0" x2="820.8" y2="0"><stop offset="0.0000" stop-color="rgb(180,180,180)"/><stop offset="0.0167" stop-color="rgb(183,183,183)"/><stop offset="0.0833" stop-color="rgb(183,183,183)"/><stop offset="0.1167" stop-color="rgb(177,177,177)"/><stop offset="0.1528" stop-color="rgb(172,172,172)"/><stop offset="0.2083" stop-color="rgb(169,169,169)"/><stop offset="0.3056" stop-color="rgb(167,167,167)"/><stop offset="0.3611" stop-color="rgb(166,166,166)"/><stop offset="0.4167" stop-color="rgb(167,167,167)"/><stop offset="0.4528" stop-color="rgb(170,170,170)"/><stop offset="0.4778" stop-color="rgb(174,174,174)"/><stop offset="0.5000" stop-color="rgb(181,181,181)"/><stop offset="0.5750" stop-color="rgb(183,183,183)"/><stop offset="0.6111" stop-color="rgb(177,177,177)"/><stop offset="0.6472" stop-color="rgb(172,172,172)"/><stop offset="0.6944" stop-color="rgb(163,163,163)"/><stop offset="0.7500" stop-color="rgb(148,148,148)"/><stop offset="0.8194" stop-color="rgb(138,138,138)"/><stop offset="0.8750" stop-color="rgb(141,141,141)"/><stop offset="0.9306" stop-color="rgb(154,154,154)"/><stop offset="0.9667" stop-color="rgb(172,172,172)"/><stop offset="0.9889" stop-color="rgb(177,177,177)"/><stop offset="1.0000" stop-color="rgb(180,180,180)"/></linearGradient>
<linearGradient id="lg66" gradientUnits="userSpaceOnUse" x1="510.9" y1="0" x2="820.8" y2="0"><stop offset="0.0000" stop-color="rgb(180,180,180)"/><stop offset="0.0167" stop-color="rgb(183,183,183)"/><stop offset="0.0833" stop-color="rgb(183,183,183)"/><stop offset="0.1167" stop-color="rgb(177,177,177)"/><stop offset="0.1528" stop-color="rgb(172,172,172)"/><stop offset="0.2000" stop-color="rgb(163,163,163)"/><stop offset="0.2639" stop-color="rgb(144,144,144)"/><stop offset="0.3278" stop-color="rgb(135,135,135)"/><stop offset="0.3833" stop-color="rgb(144,144,144)"/><stop offset="0.4306" stop-color="rgb(157,157,157)"/><stop offset="0.4611" stop-color="rgb(170,170,170)"/><stop offset="0.4833" stop-color="rgb(175,175,175)"/><stop offset="0.5056" stop-color="rgb(182,182,182)"/><stop offset="0.5750" stop-color="rgb(183,183,183)"/><stop offset="0.6111" stop-color="rgb(177,177,177)"/><stop offset="0.6472" stop-color="rgb(172,172,172)"/><stop offset="0.6944" stop-color="rgb(169,169,169)"/><stop offset="0.7500" stop-color="rgb(166,166,166)"/><stop offset="0.8333" stop-color="rgb(165,165,165)"/><stop offset="0.8889" stop-color="rgb(166,166,166)"/><stop offset="0.9444" stop-color="rgb(170,170,170)"/><stop offset="0.9778" stop-color="rgb(174,174,174)"/><stop offset="1.0000" stop-color="rgb(180,180,180)"/></linearGradient>
<linearGradient id="m2g" x1="0" y1="0" x2="0" y2="1"><stop offset="0.000" stop-color="#fff" stop-opacity="0.000"/><stop offset="0.350" stop-color="#fff" stop-opacity="0.150"/><stop offset="0.650" stop-color="#fff" stop-opacity="0.850"/><stop offset="1.000" stop-color="#fff" stop-opacity="1.000"/></linearGradient>
<mask id="m2" maskUnits="userSpaceOnUse" x="0" y="0" width="982" height="1407"><rect x="510.9" y="955.8" width="309.9" height="256.5" fill="url(#m2g)"/></mask>
<radialGradient id="rg67"><stop offset="0.000" stop-color="rgb(125,125,125)" stop-opacity="0.900"/><stop offset="0.125" stop-color="rgb(125,125,125)" stop-opacity="0.854"/><stop offset="0.250" stop-color="rgb(125,125,125)" stop-opacity="0.729"/><stop offset="0.375" stop-color="rgb(125,125,125)" stop-opacity="0.554"/><stop offset="0.500" stop-color="rgb(125,125,125)" stop-opacity="0.369"/><stop offset="0.625" stop-color="rgb(125,125,125)" stop-opacity="0.210"/><stop offset="0.750" stop-color="rgb(125,125,125)" stop-opacity="0.096"/><stop offset="0.875" stop-color="rgb(125,125,125)" stop-opacity="0.030"/><stop offset="1.000" stop-color="rgb(125,125,125)" stop-opacity="0.000"/></radialGradient>
<radialGradient id="rg68"><stop offset="0.000" stop-color="rgb(60,60,60)" stop-opacity="1.000"/><stop offset="0.125" stop-color="rgb(60,60,60)" stop-opacity="0.949"/><stop offset="0.250" stop-color="rgb(60,60,60)" stop-opacity="0.810"/><stop offset="0.375" stop-color="rgb(60,60,60)" stop-opacity="0.616"/><stop offset="0.500" stop-color="rgb(60,60,60)" stop-opacity="0.410"/><stop offset="0.625" stop-color="rgb(60,60,60)" stop-opacity="0.233"/><stop offset="0.750" stop-color="rgb(60,60,60)" stop-opacity="0.106"/><stop offset="0.875" stop-color="rgb(60,60,60)" stop-opacity="0.033"/><stop offset="1.000" stop-color="rgb(60,60,60)" stop-opacity="0.000"/></radialGradient>
<radialGradient id="rg69"><stop offset="0.000" stop-color="rgb(29,29,29)" stop-opacity="0.800"/><stop offset="0.125" stop-color="rgb(29,29,29)" stop-opacity="0.760"/><stop offset="0.250" stop-color="rgb(29,29,29)" stop-opacity="0.648"/><stop offset="0.375" stop-color="rgb(29,29,29)" stop-opacity="0.493"/><stop offset="0.500" stop-color="rgb(29,29,29)" stop-opacity="0.328"/><stop offset="0.625" stop-color="rgb(29,29,29)" stop-opacity="0.186"/><stop offset="0.750" stop-color="rgb(29,29,29)" stop-opacity="0.085"/><stop offset="0.875" stop-color="rgb(29,29,29)" stop-opacity="0.026"/><stop offset="1.000" stop-color="rgb(29,29,29)" stop-opacity="0.000"/></radialGradient>
<radialGradient id="rg70"><stop offset="0.000" stop-color="rgb(0,0,0)" stop-opacity="1.000"/><stop offset="0.125" stop-color="rgb(0,0,0)" stop-opacity="0.949"/><stop offset="0.250" stop-color="rgb(0,0,0)" stop-opacity="0.810"/><stop offset="0.375" stop-color="rgb(0,0,0)" stop-opacity="0.616"/><stop offset="0.500" stop-color="rgb(0,0,0)" stop-opacity="0.410"/><stop offset="0.625" stop-color="rgb(0,0,0)" stop-opacity="0.233"/><stop offset="0.750" stop-color="rgb(0,0,0)" stop-opacity="0.106"/><stop offset="0.875" stop-color="rgb(0,0,0)" stop-opacity="0.033"/><stop offset="1.000" stop-color="rgb(0,0,0)" stop-opacity="0.000"/></radialGradient>
<radialGradient id="rg71"><stop offset="0.000" stop-color="rgb(125,125,125)" stop-opacity="0.900"/><stop offset="0.125" stop-color="rgb(125,125,125)" stop-opacity="0.854"/><stop offset="0.250" stop-color="rgb(125,125,125)" stop-opacity="0.729"/><stop offset="0.375" stop-color="rgb(125,125,125)" stop-opacity="0.554"/><stop offset="0.500" stop-color="rgb(125,125,125)" stop-opacity="0.369"/><stop offset="0.625" stop-color="rgb(125,125,125)" stop-opacity="0.210"/><stop offset="0.750" stop-color="rgb(125,125,125)" stop-opacity="0.096"/><stop offset="0.875" stop-color="rgb(125,125,125)" stop-opacity="0.030"/><stop offset="1.000" stop-color="rgb(125,125,125)" stop-opacity="0.000"/></radialGradient>
<radialGradient id="rg72"><stop offset="0.000" stop-color="rgb(60,60,60)" stop-opacity="1.000"/><stop offset="0.125" stop-color="rgb(60,60,60)" stop-opacity="0.949"/><stop offset="0.250" stop-color="rgb(60,60,60)" stop-opacity="0.810"/><stop offset="0.375" stop-color="rgb(60,60,60)" stop-opacity="0.616"/><stop offset="0.500" stop-color="rgb(60,60,60)" stop-opacity="0.410"/><stop offset="0.625" stop-color="rgb(60,60,60)" stop-opacity="0.233"/><stop offset="0.750" stop-color="rgb(60,60,60)" stop-opacity="0.106"/><stop offset="0.875" stop-color="rgb(60,60,60)" stop-opacity="0.033"/><stop offset="1.000" stop-color="rgb(60,60,60)" stop-opacity="0.000"/></radialGradient>
<radialGradient id="rg73"><stop offset="0.000" stop-color="rgb(29,29,29)" stop-opacity="0.800"/><stop offset="0.125" stop-color="rgb(29,29,29)" stop-opacity="0.760"/><stop offset="0.250" stop-color="rgb(29,29,29)" stop-opacity="0.648"/><stop offset="0.375" stop-color="rgb(29,29,29)" stop-opacity="0.493"/><stop offset="0.500" stop-color="rgb(29,29,29)" stop-opacity="0.328"/><stop offset="0.625" stop-color="rgb(29,29,29)" stop-opacity="0.186"/><stop offset="0.750" stop-color="rgb(29,29,29)" stop-opacity="0.085"/><stop offset="0.875" stop-color="rgb(29,29,29)" stop-opacity="0.026"/><stop offset="1.000" stop-color="rgb(29,29,29)" stop-opacity="0.000"/></radialGradient>
<radialGradient id="rg74"><stop offset="0.000" stop-color="rgb(0,0,0)" stop-opacity="1.000"/><stop offset="0.125" stop-color="rgb(0,0,0)" stop-opacity="0.949"/><stop offset="0.250" stop-color="rgb(0,0,0)" stop-opacity="0.810"/><stop offset="0.375" stop-color="rgb(0,0,0)" stop-opacity="0.616"/><stop offset="0.500" stop-color="rgb(0,0,0)" stop-opacity="0.410"/><stop offset="0.625" stop-color="rgb(0,0,0)" stop-opacity="0.233"/><stop offset="0.750" stop-color="rgb(0,0,0)" stop-opacity="0.106"/><stop offset="0.875" stop-color="rgb(0,0,0)" stop-opacity="0.033"/><stop offset="1.000" stop-color="rgb(0,0,0)" stop-opacity="0.000"/></radialGradient>
<radialGradient id="rg75"><stop offset="0.000" stop-color="rgb(135,135,135)" stop-opacity="0.900"/><stop offset="0.125" stop-color="rgb(135,135,135)" stop-opacity="0.854"/><stop offset="0.250" stop-color="rgb(135,135,135)" stop-opacity="0.729"/><stop offset="0.375" stop-color="rgb(135,135,135)" stop-opacity="0.554"/><stop offset="0.500" stop-color="rgb(135,135,135)" stop-opacity="0.369"/><stop offset="0.625" stop-color="rgb(135,135,135)" stop-opacity="0.210"/><stop offset="0.750" stop-color="rgb(135,135,135)" stop-opacity="0.096"/><stop offset="0.875" stop-color="rgb(135,135,135)" stop-opacity="0.030"/><stop offset="1.000" stop-color="rgb(135,135,135)" stop-opacity="0.000"/></radialGradient>
<radialGradient id="rg76"><stop offset="0.000" stop-color="rgb(47,47,47)" stop-opacity="1.000"/><stop offset="0.125" stop-color="rgb(47,47,47)" stop-opacity="0.949"/><stop offset="0.250" stop-color="rgb(47,47,47)" stop-opacity="0.810"/><stop offset="0.375" stop-color="rgb(47,47,47)" stop-opacity="0.616"/><stop offset="0.500" stop-color="rgb(47,47,47)" stop-opacity="0.410"/><stop offset="0.625" stop-color="rgb(47,47,47)" stop-opacity="0.233"/><stop offset="0.750" stop-color="rgb(47,47,47)" stop-opacity="0.106"/><stop offset="0.875" stop-color="rgb(47,47,47)" stop-opacity="0.033"/><stop offset="1.000" stop-color="rgb(47,47,47)" stop-opacity="0.000"/></radialGradient>
<radialGradient id="rg77"><stop offset="0.000" stop-color="rgb(135,135,135)" stop-opacity="0.900"/><stop offset="0.125" stop-color="rgb(135,135,135)" stop-opacity="0.854"/><stop offset="0.250" stop-color="rgb(135,135,135)" stop-opacity="0.729"/><stop offset="0.375" stop-color="rgb(135,135,135)" stop-opacity="0.554"/><stop offset="0.500" stop-color="rgb(135,135,135)" stop-opacity="0.369"/><stop offset="0.625" stop-color="rgb(135,135,135)" stop-opacity="0.210"/><stop offset="0.750" stop-color="rgb(135,135,135)" stop-opacity="0.096"/><stop offset="0.875" stop-color="rgb(135,135,135)" stop-opacity="0.030"/><stop offset="1.000" stop-color="rgb(135,135,135)" stop-opacity="0.000"/></radialGradient>
<radialGradient id="rg78"><stop offset="0.000" stop-color="rgb(47,47,47)" stop-opacity="1.000"/><stop offset="0.125" stop-color="rgb(47,47,47)" stop-opacity="0.949"/><stop offset="0.250" stop-color="rgb(47,47,47)" stop-opacity="0.810"/><stop offset="0.375" stop-color="rgb(47,47,47)" stop-opacity="0.616"/><stop offset="0.500" stop-color="rgb(47,47,47)" stop-opacity="0.410"/><stop offset="0.625" stop-color="rgb(47,47,47)" stop-opacity="0.233"/><stop offset="0.750" stop-color="rgb(47,47,47)" stop-opacity="0.106"/><stop offset="0.875" stop-color="rgb(47,47,47)" stop-opacity="0.033"/><stop offset="1.000" stop-color="rgb(47,47,47)" stop-opacity="0.000"/></radialGradient>
<clipPath id="cp12"><rect x="510.9" y="955.8" width="309.9" height="256.5"/></clipPath>
<linearGradient id="cb79" x1="0" y1="0" x2="0" y2="1"><stop offset="0.0000" stop-color="#f2e62c"/><stop offset="0.0250" stop-color="#eae42f"/><stop offset="0.0500" stop-color="#e2e132"/><stop offset="0.0750" stop-color="#d7de37"/><stop offset="0.1000" stop-color="#cbda3c"/><stop offset="0.1250" stop-color="#bcd444"/><stop offset="0.1500" stop-color="#accf4c"/><stop offset="0.1750" stop-color="#99c954"/><stop offset="0.2000" stop-color="#87c35c"/><stop offset="0.2250" stop-color="#77be61"/><stop offset="0.2500" stop-color="#67b966"/><stop offset="0.2750" stop-color="#52b468"/><stop offset="0.3000" stop-color="#3cae69"/><stop offset="0.3250" stop-color="#1ea868"/><stop offset="0.3500" stop-color="#00a368"/><stop offset="0.3750" stop-color="#009e6f"/><stop offset="0.4000" stop-color="#009876"/><stop offset="0.4250" stop-color="#00937b"/><stop offset="0.4500" stop-color="#008e80"/><stop offset="0.4750" stop-color="#008984"/><stop offset="0.5000" stop-color="#008487"/><stop offset="0.5250" stop-color="#08808a"/><stop offset="0.5500" stop-color="#0f7b8c"/><stop offset="0.5750" stop-color="#18788e"/><stop offset="0.6000" stop-color="#227490"/><stop offset="0.6250" stop-color="#2a7092"/><stop offset="0.6500" stop-color="#326c95"/><stop offset="0.6750" stop-color="#396898"/><stop offset="0.7000" stop-color="#40639a"/><stop offset="0.7250" stop-color="#445f9b"/><stop offset="0.7500" stop-color="#495b9c"/><stop offset="0.7750" stop-color="#4c569b"/><stop offset="0.8000" stop-color="#4f509a"/><stop offset="0.8250" stop-color="#504895"/><stop offset="0.8500" stop-color="#504090"/><stop offset="0.8750" stop-color="#4e3888"/><stop offset="0.9000" stop-color="#4c3080"/><stop offset="0.9250" stop-color="#4a2975"/><stop offset="0.9500" stop-color="#48226a"/><stop offset="0.9750" stop-color="#461a5e"/><stop offset="1.0000" stop-color="#441252"/></linearGradient>
<linearGradient id="cb80" x1="0" y1="0" x2="0" y2="1"><stop offset="0.0000" stop-color="#f2e62c"/><stop offset="0.0250" stop-color="#eae42f"/><stop offset="0.0500" stop-color="#e2e132"/><stop offset="0.0750" stop-color="#d7de37"/><stop offset="0.1000" stop-color="#cbda3c"/><stop offset="0.1250" stop-color="#bcd444"/><stop offset="0.1500" stop-color="#accf4c"/><stop offset="0.1750" stop-color="#99c954"/><stop offset="0.2000" stop-color="#87c35c"/><stop offset="0.2250" stop-color="#77be61"/><stop offset="0.2500" stop-color="#67b966"/><stop offset="0.2750" stop-color="#52b468"/><stop offset="0.3000" stop-color="#3cae69"/><stop offset="0.3250" stop-color="#1ea868"/><stop offset="0.3500" stop-color="#00a368"/><stop offset="0.3750" stop-color="#009e6f"/><stop offset="0.4000" stop-color="#009876"/><stop offset="0.4250" stop-color="#00937b"/><stop offset="0.4500" stop-color="#008e80"/><stop offset="0.4750" stop-color="#008984"/><stop offset="0.5000" stop-color="#008487"/><stop offset="0.5250" stop-color="#08808a"/><stop offset="0.5500" stop-color="#0f7b8c"/><stop offset="0.5750" stop-color="#18788e"/><stop offset="0.6000" stop-color="#227490"/><stop offset="0.6250" stop-color="#2a7092"/><stop offset="0.6500" stop-color="#326c95"/><stop offset="0.6750" stop-color="#396898"/><stop offset="0.7000" stop-color="#40639a"/><stop offset="0.7250" stop-color="#445f9b"/><stop offset="0.7500" stop-color="#495b9c"/><stop offset="0.7750" stop-color="#4c569b"/><stop offset="0.8000" stop-color="#4f509a"/><stop offset="0.8250" stop-color="#504895"/><stop offset="0.8500" stop-color="#504090"/><stop offset="0.8750" stop-color="#4e3888"/><stop offset="0.9000" stop-color="#4c3080"/><stop offset="0.9250" stop-color="#4a2975"/><stop offset="0.9500" stop-color="#48226a"/><stop offset="0.9750" stop-color="#461a5e"/><stop offset="1.0000" stop-color="#441252"/></linearGradient>
</defs>
<rect width="982" height="1407" fill="#fff"/>
<g clip-path="url(#cp00)"><g filter="url(#cm)"><rect x="120.2" y="219.0" width="334.1" height="280.5" fill="rgb(28,28,28)"/><ellipse cx="178.7" cy="359.2" rx="72.0" ry="66.0" fill="url(#rg1)"/><ellipse cx="249.3" cy="359.2" rx="72.0" ry="66.0" fill="url(#rg2)"/><ellipse cx="332.9" cy="359.2" rx="72.0" ry="66.0" fill="url(#rg3)"/><ellipse cx="404.4" cy="359.2" rx="72.0" ry="66.0" fill="url(#rg4)"/><g filter="url(#b10)"><ellipse cx="211.0" cy="423.2" rx="25.0" ry="54.0" fill="rgb(16,16,16)" fill-opacity="1.00"/><ellipse cx="211.0" cy="389.2" rx="10.0" ry="22.0" fill="rgb(16,16,16)" fill-opacity="1.00"/></g><g filter="url(#b10)"><ellipse cx="365.6" cy="295.2" rx="25.0" ry="54.0" fill="rgb(16,16,16)" fill-opacity="1.00"/><ellipse cx="365.6" cy="329.2" rx="10.0" ry="22.0" fill="rgb(16,16,16)" fill-opacity="1.00"/></g><g filter="url(#b7)"><path d="M110.7 359.2A55.3 55.3 0 0 1 215.8 359.2A55.3 55.3 0 0 1 110.7 359.2Z" fill="rgb(49,49,49)" fill-opacity="1.00"/><path d="M207.1 359.2A53.0 53.0 0 0 1 308.8 359.2A53.0 53.0 0 0 1 207.1 359.2Z" fill="rgb(49,49,49)" fill-opacity="1.00"/><path d="M270.0 359.2A51.8 51.8 0 0 1 369.9 359.2A51.8 51.8 0 0 1 270.0 359.2Z" fill="rgb(49,49,49)" fill-opacity="1.00"/><path d="M361.3 359.2A56.5 56.5 0 0 1 468.1 359.2A56.5 56.5 0 0 1 361.3 359.2Z" fill="rgb(49,49,49)" fill-opacity="1.00"/></g><g filter="url(#b6)"><path d="M113.7 359.2A56.8 56.8 0 0 1 212.8 359.2A56.8 56.8 0 0 1 113.7 359.2Z" fill="rgb(64,64,64)" fill-opacity="1.00"/><path d="M210.1 359.2A53.9 53.9 0 0 1 305.8 359.2A53.9 53.9 0 0 1 210.1 359.2Z" fill="rgb(64,64,64)" fill-opacity="1.00"/><path d="M273.0 359.2A52.5 52.5 0 0 1 366.9 359.2A52.5 52.5 0 0 1 273.0 359.2Z" fill="rgb(64,64,64)" fill-opacity="1.00"/><path d="M364.3 359.2A58.3 58.3 0 0 1 465.1 359.2A58.3 58.3 0 0 1 364.3 359.2Z" fill="rgb(64,64,64)" fill-opacity="1.00"/></g><g filter="url(#b5)"><path d="M117.7 359.2A66.6 66.6 0 0 1 208.8 359.2A66.6 66.6 0 0 1 117.7 359.2Z" fill="rgb(84,84,84)" fill-opacity="1.00"/><path d="M214.1 359.2A62.3 62.3 0 0 1 301.8 359.2A62.3 62.3 0 0 1 214.1 359.2Z" fill="rgb(84,84,84)" fill-opacity="1.00"/><path d="M277.0 359.2A60.3 60.3 0 0 1 362.9 359.2A60.3 60.3 0 0 1 277.0 359.2Z" fill="rgb(84,84,84)" fill-opacity="1.00"/><path d="M368.3 359.2A68.8 68.8 0 0 1 461.1 359.2A68.8 68.8 0 0 1 368.3 359.2Z" fill="rgb(84,84,84)" fill-opacity="1.00"/></g><ellipse cx="178.7" cy="359.2" rx="66.0" ry="24.0" fill="url(#rg5)"/><ellipse cx="178.7" cy="359.2" rx="46.0" ry="14.0" fill="url(#rg6)"/><ellipse cx="249.3" cy="359.2" rx="66.0" ry="24.0" fill="url(#rg7)"/><ellipse cx="249.3" cy="359.2" rx="46.0" ry="14.0" fill="url(#rg8)"/><ellipse cx="332.9" cy="359.2" rx="66.0" ry="24.0" fill="url(#rg9)"/><ellipse cx="332.9" cy="359.2" rx="46.0" ry="14.0" fill="url(#rg10)"/><ellipse cx="404.4" cy="359.2" rx="66.0" ry="24.0" fill="url(#rg11)"/><ellipse cx="404.4" cy="359.2" rx="46.0" ry="14.0" fill="url(#rg12)"/></g></g>
<g clip-path="url(#cp10)"><g filter="url(#cm)"><rect x="498.9" y="219.0" width="333.9" height="280.5" fill="url(#lg13)"/><g filter="url(#b11)"><ellipse cx="611.6" cy="359.2" rx="60.0" ry="74.0" fill="rgb(25,25,25)" fill-opacity="1.00"/><ellipse cx="766.6" cy="359.2" rx="60.0" ry="74.0" fill="rgb(25,25,25)" fill-opacity="1.00"/><ellipse cx="456.7" cy="359.2" rx="60.0" ry="74.0" fill="rgb(25,25,25)" fill-opacity="1.00"/></g><ellipse cx="510.9" cy="231.0" rx="70.0" ry="34.0" fill="url(#rg14)"/><ellipse cx="665.8" cy="231.0" rx="70.0" ry="34.0" fill="url(#rg15)"/><ellipse cx="820.8" cy="231.0" rx="70.0" ry="34.0" fill="url(#rg16)"/><ellipse cx="588.4" cy="487.5" rx="70.0" ry="34.0" fill="url(#rg17)"/><ellipse cx="743.3" cy="487.5" rx="70.0" ry="34.0" fill="url(#rg18)"/><ellipse cx="535.0" cy="359.2" rx="46.0" ry="32.0" fill="url(#rg19)"/><ellipse cx="690.0" cy="359.2" rx="46.0" ry="32.0" fill="url(#rg20)"/><g filter="url(#b4)"><ellipse cx="663.3" cy="359.2" rx="5.5" ry="38.0" fill="rgb(5,5,5)" fill-opacity="1.00"/><ellipse cx="818.2" cy="359.2" rx="5.5" ry="38.0" fill="rgb(5,5,5)" fill-opacity="1.00"/><ellipse cx="508.3" cy="359.2" rx="5.5" ry="38.0" fill="rgb(5,5,5)" fill-opacity="1.00"/></g><g filter="url(#b5)"><ellipse cx="557.4" cy="359.2" rx="6.0" ry="30.0" fill="rgb(13,13,13)" fill-opacity="1.00"/><ellipse cx="712.3" cy="359.2" rx="6.0" ry="30.0" fill="rgb(13,13,13)" fill-opacity="1.00"/></g><g filter="url(#b3)"><path d="M558.8 359.2A53.8 53.8 0 0 1 662.8 359.2A53.8 53.8 0 0 1 558.8 359.2Z" fill="rgb(59,59,59)" fill-opacity="1.00"/><path d="M713.7 359.2A53.8 53.8 0 0 1 817.7 359.2A53.8 53.8 0 0 1 713.7 359.2Z" fill="rgb(59,59,59)" fill-opacity="1.00"/></g><g filter="url(#b4)"><path d="M560.8 359.2A56.7 56.7 0 0 1 660.8 359.2A56.7 56.7 0 0 1 560.8 359.2Z" fill="rgb(87,87,87)" fill-opacity="1.00"/><path d="M715.7 359.2A56.7 56.7 0 0 1 815.7 359.2A56.7 56.7 0 0 1 715.7 359.2Z" fill="rgb(87,87,87)" fill-opacity="1.00"/></g><g filter="url(#b3)"><path d="M563.8 359.2A63.1 63.1 0 0 1 657.8 359.2A63.1 63.1 0 0 1 563.8 359.2Z" fill="rgb(125,125,125)" fill-opacity="1.00"/><path d="M718.7 359.2A63.1 63.1 0 0 1 812.7 359.2A63.1 63.1 0 0 1 718.7 359.2Z" fill="rgb(125,125,125)" fill-opacity="1.00"/></g><g filter="url(#b3)"><path d="M574.5 359.2A62.0 62.0 0 0 1 650.5 359.2A62.0 62.0 0 0 1 574.5 359.2Z" fill="rgb(159,159,159)" fill-opacity="1.00"/><path d="M729.4 359.2A62.0 62.0 0 0 1 805.4 359.2A62.0 62.0 0 0 1 729.4 359.2Z" fill="rgb(159,159,159)" fill-opacity="1.00"/></g><ellipse cx="615.1" cy="359.2" rx="36.0" ry="8.0" fill="url(#rg21)"/><ellipse cx="770.0" cy="359.2" rx="36.0" ry="8.0" fill="url(#rg22)"/><ellipse cx="528.5" cy="359.2" rx="29.0" ry="12.0" fill="url(#rg23)"/><ellipse cx="526.4" cy="359.2" rx="22.0" ry="5.5" fill="url(#rg24)"/><ellipse cx="683.5" cy="359.2" rx="29.0" ry="12.0" fill="url(#rg25)"/><ellipse cx="681.3" cy="359.2" rx="22.0" ry="5.5" fill="url(#rg26)"/></g></g>
<g clip-path="url(#cp01)"><g filter="url(#cm)"><rect x="120.2" y="581.1" width="334.1" height="280.8" fill="url(#lg27)"/><rect x="120.2" y="659.5" width="334.1" height="124.0" fill="url(#lg28)"/><rect x="120.2" y="709.5" width="334.1" height="24.0" fill="url(#lg29)"/><ellipse cx="171.0" cy="721.5" rx="36.0" ry="7.0" fill="url(#rg30)"/><ellipse cx="235.6" cy="721.5" rx="36.0" ry="7.0" fill="url(#rg31)"/><ellipse cx="324.3" cy="721.5" rx="36.0" ry="7.0" fill="url(#rg32)"/><ellipse cx="393.2" cy="721.5" rx="36.0" ry="7.0" fill="url(#rg33)"/></g></g>
<g clip-path="url(#cp11)"><g filter="url(#cm)"><rect x="498.9" y="581.1" width="333.9" height="280.8" fill="url(#lg34)"/><g mask="url(#m1)"><rect x="498.9" y="581.1" width="333.9" height="280.8" fill="url(#lg35)"/></g><ellipse cx="618.5" cy="721.5" rx="58.0" ry="50.0" fill="url(#rg36)"/><ellipse cx="618.5" cy="721.5" rx="44.0" ry="34.0" fill="url(#rg37)"/><ellipse cx="618.5" cy="721.5" rx="29.0" ry="14.0" fill="url(#rg38)"/><ellipse cx="618.5" cy="721.5" rx="17.0" ry="7.5" fill="url(#rg39)"/><ellipse cx="773.5" cy="721.5" rx="58.0" ry="50.0" fill="url(#rg40)"/><ellipse cx="773.5" cy="721.5" rx="44.0" ry="34.0" fill="url(#rg41)"/><ellipse cx="773.5" cy="721.5" rx="29.0" ry="14.0" fill="url(#rg42)"/><ellipse cx="773.5" cy="721.5" rx="17.0" ry="7.5" fill="url(#rg43)"/><ellipse cx="526.4" cy="721.5" rx="26.0" ry="9.0" fill="url(#rg44)"/><ellipse cx="525.5" cy="721.5" rx="14.0" ry="4.5" fill="url(#rg45)"/><ellipse cx="681.3" cy="721.5" rx="26.0" ry="9.0" fill="url(#rg46)"/><ellipse cx="680.5" cy="721.5" rx="14.0" ry="4.5" fill="url(#rg47)"/></g></g>
<g clip-path="url(#cp02)"><g filter="url(#cm)"><rect x="120.2" y="943.8" width="334.1" height="280.5" fill="url(#lg48)"/><ellipse cx="179.6" cy="1084.0" rx="62.0" ry="80.0" fill="url(#rg49)"/><ellipse cx="179.6" cy="1084.0" rx="46.0" ry="30.0" fill="url(#rg50)"/><ellipse cx="179.6" cy="1084.0" rx="29.0" ry="14.0" fill="url(#rg51)"/><ellipse cx="179.6" cy="1084.0" rx="16.0" ry="6.5" fill="url(#rg52)"/><ellipse cx="245.0" cy="1084.0" rx="62.0" ry="80.0" fill="url(#rg53)"/><ellipse cx="245.0" cy="1084.0" rx="46.0" ry="30.0" fill="url(#rg54)"/><ellipse cx="245.0" cy="1084.0" rx="29.0" ry="14.0" fill="url(#rg55)"/><ellipse cx="245.0" cy="1084.0" rx="16.0" ry="6.5" fill="url(#rg56)"/><ellipse cx="335.5" cy="1084.0" rx="62.0" ry="80.0" fill="url(#rg57)"/><ellipse cx="335.5" cy="1084.0" rx="46.0" ry="30.0" fill="url(#rg58)"/><ellipse cx="335.5" cy="1084.0" rx="29.0" ry="14.0" fill="url(#rg59)"/><ellipse cx="335.5" cy="1084.0" rx="16.0" ry="6.5" fill="url(#rg60)"/><ellipse cx="401.8" cy="1084.0" rx="62.0" ry="80.0" fill="url(#rg61)"/><ellipse cx="401.8" cy="1084.0" rx="46.0" ry="30.0" fill="url(#rg62)"/><ellipse cx="401.8" cy="1084.0" rx="29.0" ry="14.0" fill="url(#rg63)"/><ellipse cx="401.8" cy="1084.0" rx="16.0" ry="6.5" fill="url(#rg64)"/></g></g>
<g clip-path="url(#cp12)"><g filter="url(#cm)"><rect x="498.9" y="943.8" width="333.9" height="280.5" fill="url(#lg65)"/><g mask="url(#m2)"><rect x="498.9" y="943.8" width="333.9" height="280.5" fill="url(#lg66)"/></g><ellipse cx="612.5" cy="1084.0" rx="72.0" ry="62.0" fill="url(#rg67)"/><ellipse cx="612.5" cy="1084.0" rx="50.0" ry="30.0" fill="url(#rg68)"/><ellipse cx="612.5" cy="1084.0" rx="32.0" ry="14.0" fill="url(#rg69)"/><ellipse cx="612.5" cy="1084.0" rx="19.0" ry="7.5" fill="url(#rg70)"/><ellipse cx="768.3" cy="1084.0" rx="72.0" ry="62.0" fill="url(#rg71)"/><ellipse cx="768.3" cy="1084.0" rx="50.0" ry="30.0" fill="url(#rg72)"/><ellipse cx="768.3" cy="1084.0" rx="32.0" ry="14.0" fill="url(#rg73)"/><ellipse cx="768.3" cy="1084.0" rx="19.0" ry="7.5" fill="url(#rg74)"/><ellipse cx="526.4" cy="1084.0" rx="26.0" ry="10.0" fill="url(#rg75)"/><ellipse cx="525.5" cy="1084.0" rx="13.0" ry="4.5" fill="url(#rg76)"/><ellipse cx="681.3" cy="1084.0" rx="26.0" ry="10.0" fill="url(#rg77)"/><ellipse cx="680.5" cy="1084.0" rx="13.0" ry="4.5" fill="url(#rg78)"/></g></g>
<line x1="133.70" y1="282.30" x2="440.80" y2="282.30" stroke="#fff" stroke-width="2.55" stroke-dasharray="7.55 3.15" stroke-dashoffset="1.70"/>
<line x1="133.70" y1="436.20" x2="440.80" y2="436.20" stroke="#fff" stroke-width="2.55" stroke-dasharray="7.55 3.15" stroke-dashoffset="1.70"/>
<line x1="133.70" y1="307.95" x2="440.80" y2="307.95" stroke="#fff" stroke-width="2.55" stroke-dasharray="2.3 3.08" stroke-dashoffset="2.70"/>
<line x1="133.70" y1="410.55" x2="440.80" y2="410.55" stroke="#fff" stroke-width="2.55" stroke-dasharray="2.3 3.08" stroke-dashoffset="2.70"/>
<rect x="132.20" y="231.00" width="310.10" height="256.50" fill="none" stroke="#231f20" stroke-width="3.30"/>
<line x1="117.55" y1="487.50" x2="131.05" y2="487.50" stroke="#231f20" stroke-width="3.30" />
<text transform="translate(103.60,498.00) scale(0.940,1)" font-size="30.40" text-anchor="end" >85.0</text>
<line x1="117.55" y1="423.38" x2="131.05" y2="423.38" stroke="#231f20" stroke-width="3.30" />
<text transform="translate(103.60,433.88) scale(0.940,1)" font-size="30.40" text-anchor="end" >87.5</text>
<line x1="117.55" y1="359.25" x2="131.05" y2="359.25" stroke="#231f20" stroke-width="3.30" />
<text transform="translate(103.60,369.75) scale(0.940,1)" font-size="30.40" text-anchor="end" >90.0</text>
<line x1="117.55" y1="295.12" x2="131.05" y2="295.12" stroke="#231f20" stroke-width="3.30" />
<text transform="translate(103.60,305.62) scale(0.940,1)" font-size="30.40" text-anchor="end" >92.5</text>
<line x1="117.55" y1="231.00" x2="131.05" y2="231.00" stroke="#231f20" stroke-width="3.30" />
<text transform="translate(103.60,241.50) scale(0.940,1)" font-size="30.40" text-anchor="end" >95.0</text>
<line x1="132.20" y1="488.65" x2="132.20" y2="502.15" stroke="#231f20" stroke-width="3.30" />
<line x1="209.72" y1="488.65" x2="209.72" y2="502.15" stroke="#231f20" stroke-width="3.30" />
<line x1="287.25" y1="488.65" x2="287.25" y2="502.15" stroke="#231f20" stroke-width="3.30" />
<line x1="364.77" y1="488.65" x2="364.77" y2="502.15" stroke="#231f20" stroke-width="3.30" />
<line x1="442.30" y1="488.65" x2="442.30" y2="502.15" stroke="#231f20" stroke-width="3.30" />
<text transform="translate(22.1,360.2) rotate(-90)" font-size="29.0" text-anchor="middle"><tspan class="dji">θ</tspan> (deg)</text>
<line x1="133.70" y1="644.46" x2="440.80" y2="644.46" stroke="#fff" stroke-width="2.55" stroke-dasharray="7.55 3.15" stroke-dashoffset="1.70"/>
<line x1="133.70" y1="798.54" x2="440.80" y2="798.54" stroke="#fff" stroke-width="2.55" stroke-dasharray="7.55 3.15" stroke-dashoffset="1.70"/>
<line x1="133.70" y1="670.14" x2="440.80" y2="670.14" stroke="#fff" stroke-width="2.55" stroke-dasharray="2.3 3.08" stroke-dashoffset="2.70"/>
<line x1="133.70" y1="772.86" x2="440.80" y2="772.86" stroke="#fff" stroke-width="2.55" stroke-dasharray="2.3 3.08" stroke-dashoffset="2.70"/>
<rect x="132.20" y="593.10" width="310.10" height="256.80" fill="none" stroke="#231f20" stroke-width="3.30"/>
<line x1="117.55" y1="849.90" x2="131.05" y2="849.90" stroke="#231f20" stroke-width="3.30" />
<text transform="translate(103.60,860.40) scale(0.940,1)" font-size="30.40" text-anchor="end" >85.0</text>
<line x1="117.55" y1="785.70" x2="131.05" y2="785.70" stroke="#231f20" stroke-width="3.30" />
<text transform="translate(103.60,796.20) scale(0.940,1)" font-size="30.40" text-anchor="end" >87.5</text>
<line x1="117.55" y1="721.50" x2="131.05" y2="721.50" stroke="#231f20" stroke-width="3.30" />
<text transform="translate(103.60,732.00) scale(0.940,1)" font-size="30.40" text-anchor="end" >90.0</text>
<line x1="117.55" y1="657.30" x2="131.05" y2="657.30" stroke="#231f20" stroke-width="3.30" />
<text transform="translate(103.60,667.80) scale(0.940,1)" font-size="30.40" text-anchor="end" >92.5</text>
<line x1="117.55" y1="593.10" x2="131.05" y2="593.10" stroke="#231f20" stroke-width="3.30" />
<text transform="translate(103.60,603.60) scale(0.940,1)" font-size="30.40" text-anchor="end" >95.0</text>
<line x1="132.20" y1="851.05" x2="132.20" y2="864.55" stroke="#231f20" stroke-width="3.30" />
<line x1="209.72" y1="851.05" x2="209.72" y2="864.55" stroke="#231f20" stroke-width="3.30" />
<line x1="287.25" y1="851.05" x2="287.25" y2="864.55" stroke="#231f20" stroke-width="3.30" />
<line x1="364.77" y1="851.05" x2="364.77" y2="864.55" stroke="#231f20" stroke-width="3.30" />
<line x1="442.30" y1="851.05" x2="442.30" y2="864.55" stroke="#231f20" stroke-width="3.30" />
<text transform="translate(22.1,722.5) rotate(-90)" font-size="29.0" text-anchor="middle"><tspan class="dji">θ</tspan> (deg)</text>
<line x1="133.70" y1="1007.10" x2="440.80" y2="1007.10" stroke="#fff" stroke-width="2.55" stroke-dasharray="7.55 3.15" stroke-dashoffset="1.70"/>
<line x1="133.70" y1="1161.00" x2="440.80" y2="1161.00" stroke="#fff" stroke-width="2.55" stroke-dasharray="7.55 3.15" stroke-dashoffset="1.70"/>
<line x1="133.70" y1="1032.75" x2="440.80" y2="1032.75" stroke="#fff" stroke-width="2.55" stroke-dasharray="2.3 3.08" stroke-dashoffset="2.70"/>
<line x1="133.70" y1="1135.35" x2="440.80" y2="1135.35" stroke="#fff" stroke-width="2.55" stroke-dasharray="2.3 3.08" stroke-dashoffset="2.70"/>
<rect x="132.20" y="955.80" width="310.10" height="256.50" fill="none" stroke="#231f20" stroke-width="3.30"/>
<line x1="117.55" y1="1212.30" x2="131.05" y2="1212.30" stroke="#231f20" stroke-width="3.30" />
<text transform="translate(103.60,1222.80) scale(0.940,1)" font-size="30.40" text-anchor="end" >85.0</text>
<line x1="117.55" y1="1148.17" x2="131.05" y2="1148.17" stroke="#231f20" stroke-width="3.30" />
<text transform="translate(103.60,1158.67) scale(0.940,1)" font-size="30.40" text-anchor="end" >87.5</text>
<line x1="117.55" y1="1084.05" x2="131.05" y2="1084.05" stroke="#231f20" stroke-width="3.30" />
<text transform="translate(103.60,1094.55) scale(0.940,1)" font-size="30.40" text-anchor="end" >90.0</text>
<line x1="117.55" y1="1019.92" x2="131.05" y2="1019.92" stroke="#231f20" stroke-width="3.30" />
<text transform="translate(103.60,1030.42) scale(0.940,1)" font-size="30.40" text-anchor="end" >92.5</text>
<line x1="117.55" y1="955.80" x2="131.05" y2="955.80" stroke="#231f20" stroke-width="3.30" />
<text transform="translate(103.60,966.30) scale(0.940,1)" font-size="30.40" text-anchor="end" >95.0</text>
<line x1="132.20" y1="1213.45" x2="132.20" y2="1226.95" stroke="#231f20" stroke-width="3.30" />
<text transform="translate(132.50,1261.90) scale(0.940,1)" font-size="30.40" text-anchor="middle" >0</text>
<line x1="209.72" y1="1213.45" x2="209.72" y2="1226.95" stroke="#231f20" stroke-width="3.30" />
<text transform="translate(210.03,1261.90) scale(0.940,1)" font-size="30.40" text-anchor="middle" >90</text>
<line x1="287.25" y1="1213.45" x2="287.25" y2="1226.95" stroke="#231f20" stroke-width="3.30" />
<text transform="translate(287.55,1261.90) scale(0.940,1)" font-size="30.40" text-anchor="middle" >180</text>
<line x1="364.77" y1="1213.45" x2="364.77" y2="1226.95" stroke="#231f20" stroke-width="3.30" />
<text transform="translate(365.07,1261.90) scale(0.940,1)" font-size="30.40" text-anchor="middle" >270</text>
<line x1="442.30" y1="1213.45" x2="442.30" y2="1226.95" stroke="#231f20" stroke-width="3.30" />
<text transform="translate(442.60,1261.90) scale(0.940,1)" font-size="30.40" text-anchor="middle" >360</text>
<text transform="translate(22.1,1085.0) rotate(-90)" font-size="29.0" text-anchor="middle"><tspan class="dji">θ</tspan> (deg)</text>
<text x="287.6" y="1304.6" font-size="28.6" text-anchor="middle"><tspan class="dji">ϕ</tspan> (deg)</text>
<line x1="512.40" y1="282.30" x2="819.30" y2="282.30" stroke="#fff" stroke-width="2.55" stroke-dasharray="7.55 3.15" stroke-dashoffset="1.70"/>
<line x1="512.40" y1="436.20" x2="819.30" y2="436.20" stroke="#fff" stroke-width="2.55" stroke-dasharray="7.55 3.15" stroke-dashoffset="1.70"/>
<line x1="512.40" y1="307.95" x2="819.30" y2="307.95" stroke="#fff" stroke-width="2.55" stroke-dasharray="2.3 3.08" stroke-dashoffset="2.70"/>
<line x1="512.40" y1="410.55" x2="819.30" y2="410.55" stroke="#fff" stroke-width="2.55" stroke-dasharray="2.3 3.08" stroke-dashoffset="2.70"/>
<rect x="510.90" y="231.00" width="309.90" height="256.50" fill="none" stroke="#231f20" stroke-width="3.30"/>
<line x1="496.25" y1="487.50" x2="509.75" y2="487.50" stroke="#231f20" stroke-width="3.30" />
<line x1="496.25" y1="423.38" x2="509.75" y2="423.38" stroke="#231f20" stroke-width="3.30" />
<line x1="496.25" y1="359.25" x2="509.75" y2="359.25" stroke="#231f20" stroke-width="3.30" />
<line x1="496.25" y1="295.12" x2="509.75" y2="295.12" stroke="#231f20" stroke-width="3.30" />
<line x1="496.25" y1="231.00" x2="509.75" y2="231.00" stroke="#231f20" stroke-width="3.30" />
<line x1="510.90" y1="488.65" x2="510.90" y2="502.15" stroke="#231f20" stroke-width="3.30" />
<line x1="588.38" y1="488.65" x2="588.38" y2="502.15" stroke="#231f20" stroke-width="3.30" />
<line x1="665.85" y1="488.65" x2="665.85" y2="502.15" stroke="#231f20" stroke-width="3.30" />
<line x1="743.33" y1="488.65" x2="743.33" y2="502.15" stroke="#231f20" stroke-width="3.30" />
<line x1="820.80" y1="488.65" x2="820.80" y2="502.15" stroke="#231f20" stroke-width="3.30" />
<line x1="512.40" y1="644.46" x2="819.30" y2="644.46" stroke="#fff" stroke-width="2.55" stroke-dasharray="7.55 3.15" stroke-dashoffset="1.70"/>
<line x1="512.40" y1="798.54" x2="819.30" y2="798.54" stroke="#fff" stroke-width="2.55" stroke-dasharray="7.55 3.15" stroke-dashoffset="1.70"/>
<line x1="512.40" y1="670.14" x2="819.30" y2="670.14" stroke="#fff" stroke-width="2.55" stroke-dasharray="2.3 3.08" stroke-dashoffset="2.70"/>
<line x1="512.40" y1="772.86" x2="819.30" y2="772.86" stroke="#fff" stroke-width="2.55" stroke-dasharray="2.3 3.08" stroke-dashoffset="2.70"/>
<rect x="510.90" y="593.10" width="309.90" height="256.80" fill="none" stroke="#231f20" stroke-width="3.30"/>
<line x1="496.25" y1="849.90" x2="509.75" y2="849.90" stroke="#231f20" stroke-width="3.30" />
<line x1="496.25" y1="785.70" x2="509.75" y2="785.70" stroke="#231f20" stroke-width="3.30" />
<line x1="496.25" y1="721.50" x2="509.75" y2="721.50" stroke="#231f20" stroke-width="3.30" />
<line x1="496.25" y1="657.30" x2="509.75" y2="657.30" stroke="#231f20" stroke-width="3.30" />
<line x1="496.25" y1="593.10" x2="509.75" y2="593.10" stroke="#231f20" stroke-width="3.30" />
<line x1="510.90" y1="851.05" x2="510.90" y2="864.55" stroke="#231f20" stroke-width="3.30" />
<line x1="588.38" y1="851.05" x2="588.38" y2="864.55" stroke="#231f20" stroke-width="3.30" />
<line x1="665.85" y1="851.05" x2="665.85" y2="864.55" stroke="#231f20" stroke-width="3.30" />
<line x1="743.33" y1="851.05" x2="743.33" y2="864.55" stroke="#231f20" stroke-width="3.30" />
<line x1="820.80" y1="851.05" x2="820.80" y2="864.55" stroke="#231f20" stroke-width="3.30" />
<line x1="512.40" y1="1007.10" x2="819.30" y2="1007.10" stroke="#fff" stroke-width="2.55" stroke-dasharray="7.55 3.15" stroke-dashoffset="1.70"/>
<line x1="512.40" y1="1161.00" x2="819.30" y2="1161.00" stroke="#fff" stroke-width="2.55" stroke-dasharray="7.55 3.15" stroke-dashoffset="1.70"/>
<line x1="512.40" y1="1032.75" x2="819.30" y2="1032.75" stroke="#fff" stroke-width="2.55" stroke-dasharray="2.3 3.08" stroke-dashoffset="2.70"/>
<line x1="512.40" y1="1135.35" x2="819.30" y2="1135.35" stroke="#fff" stroke-width="2.55" stroke-dasharray="2.3 3.08" stroke-dashoffset="2.70"/>
<rect x="510.90" y="955.80" width="309.90" height="256.50" fill="none" stroke="#231f20" stroke-width="3.30"/>
<line x1="496.25" y1="1212.30" x2="509.75" y2="1212.30" stroke="#231f20" stroke-width="3.30" />
<line x1="496.25" y1="1148.17" x2="509.75" y2="1148.17" stroke="#231f20" stroke-width="3.30" />
<line x1="496.25" y1="1084.05" x2="509.75" y2="1084.05" stroke="#231f20" stroke-width="3.30" />
<line x1="496.25" y1="1019.92" x2="509.75" y2="1019.92" stroke="#231f20" stroke-width="3.30" />
<line x1="496.25" y1="955.80" x2="509.75" y2="955.80" stroke="#231f20" stroke-width="3.30" />
<line x1="510.90" y1="1213.45" x2="510.90" y2="1226.95" stroke="#231f20" stroke-width="3.30" />
<text transform="translate(511.20,1261.90) scale(0.940,1)" font-size="30.40" text-anchor="middle" >0</text>
<line x1="588.38" y1="1213.45" x2="588.38" y2="1226.95" stroke="#231f20" stroke-width="3.30" />
<text transform="translate(588.67,1261.90) scale(0.940,1)" font-size="30.40" text-anchor="middle" >90</text>
<line x1="665.85" y1="1213.45" x2="665.85" y2="1226.95" stroke="#231f20" stroke-width="3.30" />
<text transform="translate(666.15,1261.90) scale(0.940,1)" font-size="30.40" text-anchor="middle" >180</text>
<line x1="743.33" y1="1213.45" x2="743.33" y2="1226.95" stroke="#231f20" stroke-width="3.30" />
<text transform="translate(743.62,1261.90) scale(0.940,1)" font-size="30.40" text-anchor="middle" >270</text>
<line x1="820.80" y1="1213.45" x2="820.80" y2="1226.95" stroke="#231f20" stroke-width="3.30" />
<text transform="translate(821.10,1261.90) scale(0.940,1)" font-size="30.40" text-anchor="middle" >360</text>
<text x="666.1" y="1304.6" font-size="28.6" text-anchor="middle"><tspan class="dji">ϕ</tspan> (deg)</text>
<text x="74.00" y="200.30" font-size="38.50" text-anchor="start" font-weight="bold" style="fill:#000;stroke:#000;stroke-width:0.5">a</text>
<text x="461.50" y="200.30" font-size="38.50" text-anchor="start" font-weight="bold" style="fill:#000;stroke:#000;stroke-width:0.5">b</text>
<text x="74.50" y="551.50" font-size="38.50" text-anchor="start" font-weight="bold" style="fill:#000;stroke:#000;stroke-width:0.5">c</text>
<text x="461.70" y="550.50" font-size="38.50" text-anchor="start" font-weight="bold" style="fill:#000;stroke:#000;stroke-width:0.5">d</text>
<text x="73.70" y="906.00" font-size="38.50" text-anchor="start" font-weight="bold" style="fill:#000;stroke:#000;stroke-width:0.5">e</text>
<text x="461.00" y="904.60" font-size="38.50" text-anchor="start" font-weight="bold" style="fill:#000;stroke:#000;stroke-width:0.5">f</text>
<text x="261.0" y="203.7" font-size="33.5" class="dj"><tspan class="dji">ξ</tspan><tspan font-size="23.5" dy="5.9">1h</tspan></text>
<text x="639.7" y="203.7" font-size="33.5" class="dj"><tspan class="dji">ξ</tspan><tspan font-size="23.5" dy="5.9">3h</tspan></text>
<text x="251.5" y="567.0" font-size="33.5" class="dji">f</text>
<text x="265.5" y="554.2" font-size="23.5" class="dji">R</text>
<text x="263.1" y="576.4" font-size="23.5" class="dj">1h,<tspan dx="-3"> P</tspan></text>
<text x="630.2" y="567.0" font-size="33.5" class="dji">f</text>
<text x="644.2" y="554.2" font-size="23.5" class="dji">R</text>
<text x="641.8" y="576.4" font-size="23.5" class="dj">3h,<tspan dx="-3"> P</tspan></text>
<text x="251.5" y="929.7" font-size="33.5" class="dji">f</text>
<text x="265.5" y="916.9" font-size="23.5" class="dji">R</text>
<text x="263.1" y="939.1" font-size="23.5" class="dj">1h,<tspan dx="-3"> B</tspan></text>
<text x="630.2" y="929.7" font-size="33.5" class="dji">f</text>
<text x="644.2" y="916.9" font-size="23.5" class="dji">R</text>
<text x="641.8" y="939.1" font-size="23.5" class="dj">3h,<tspan dx="-3"> B</tspan></text>
<rect x="844.0" y="263.60" width="10.5" height="209.60" fill="url(#cb79)"/>
<line x1="844.15" y1="264.20" x2="844.15" y2="474.70" stroke="#231f20" stroke-width="2.60" />
<line x1="854.30" y1="264.20" x2="854.30" y2="474.70" stroke="#231f20" stroke-width="3.10" />
<line x1="842.90" y1="473.20" x2="855.80" y2="473.20" stroke="#231f20" stroke-width="3.00" />
<line x1="843.60" y1="264.10" x2="855.20" y2="264.10" stroke="#f2e62c" stroke-width="0.80" />
<line x1="855.00" y1="319.90" x2="868.00" y2="319.90" stroke="#231f20" stroke-width="3.30" />
<text transform="translate(882.20,330.30) scale(0.940,1)" font-size="30.40" text-anchor="start" >20</text>
<line x1="855.00" y1="396.40" x2="868.00" y2="396.40" stroke="#231f20" stroke-width="3.30" />
<text transform="translate(882.20,406.80) scale(0.940,1)" font-size="30.40" text-anchor="start" >10</text>
<line x1="855.00" y1="473.00" x2="868.00" y2="473.00" stroke="#231f20" stroke-width="3.30" />
<text transform="translate(882.20,483.40) scale(0.940,1)" font-size="30.40" text-anchor="start" >0</text>
<text transform="translate(956.0,369.6) rotate(-90)" font-size="29.5" text-anchor="middle"><tspan class="dji">ξ</tspan> (10<tspan class="dj" font-size="20.5" dy="-11.5">−4</tspan><tspan dy="11.5">/mV)</tspan></text>
<rect x="844.0" y="781.30" width="10.5" height="209.70" fill="url(#cb80)"/>
<line x1="844.15" y1="781.90" x2="844.15" y2="992.50" stroke="#231f20" stroke-width="2.60" />
<line x1="854.30" y1="781.90" x2="854.30" y2="992.50" stroke="#231f20" stroke-width="3.10" />
<line x1="842.90" y1="991.00" x2="855.80" y2="991.00" stroke="#231f20" stroke-width="3.00" />
<line x1="843.60" y1="781.80" x2="855.20" y2="781.80" stroke="#f2e62c" stroke-width="0.80" />
<line x1="855.00" y1="818.60" x2="868.00" y2="818.60" stroke="#231f20" stroke-width="3.30" />
<text transform="translate(882.20,829.00) scale(0.940,1)" font-size="30.40" text-anchor="start" >0.50</text>
<line x1="855.00" y1="904.40" x2="868.00" y2="904.40" stroke="#231f20" stroke-width="3.30" />
<text transform="translate(882.20,914.80) scale(0.940,1)" font-size="30.40" text-anchor="start" >0.25</text>
<line x1="855.00" y1="990.60" x2="868.00" y2="990.60" stroke="#231f20" stroke-width="3.30" />
<text transform="translate(882.20,1001.00) scale(0.940,1)" font-size="30.40" text-anchor="start" >0.00</text>
<text transform="translate(974.7,886.0) rotate(-90)" font-size="29.0" text-anchor="middle"><tspan font-style="italic">f</tspan><tspan font-size="20" dy="6.2">R</tspan><tspan dy="-6.2">/</tspan><tspan font-style="italic">A</tspan> (MHz/mV)</text>
<line x1="269.30" y1="1342.60" x2="337.60" y2="1342.60" stroke="#000" stroke-width="2.90" stroke-dasharray="1.9 2.25"/>
<line x1="269.30" y1="1388.40" x2="337.60" y2="1388.40" stroke="#000" stroke-width="2.90" stroke-dasharray="6.4 2.03"/>
<text x="364.0" y="1354.0" font-size="32.5" fill="#000" style="fill:#000" textLength="276" lengthAdjust="spacingAndGlyphs">2 deg out-of-plane</text>
<text x="364.0" y="1398.6" font-size="32.5" fill="#000" style="fill:#000" textLength="276" lengthAdjust="spacingAndGlyphs">3 deg out-of-plane</text>
<rect x="219.5" y="20.3" width="125.3" height="129.1" rx="20" ry="20" fill="#fff" stroke="#000" stroke-width="2.3"/>
<line x1="263.70" y1="55.00" x2="300.80" y2="55.00" stroke="#000" stroke-width="1.50" />
<line x1="263.70" y1="97.40" x2="300.80" y2="97.40" stroke="#000" stroke-width="1.50" />
<line x1="263.70" y1="142.40" x2="300.80" y2="142.40" stroke="#000" stroke-width="1.50" />
<path d="M274.2 138.6V114.1M266.9 121.5L274.2 113.3L281.5 121.5" fill="none" stroke="#000" stroke-width="1.8"/>
<rect x="599.7" y="21.3" width="125.2" height="128.0" rx="20" ry="20" fill="#fff" stroke="#000" stroke-width="2.3"/>
<line x1="644.00" y1="56.00" x2="680.80" y2="56.00" stroke="#000" stroke-width="1.50" />
<line x1="644.00" y1="98.20" x2="680.80" y2="98.20" stroke="#000" stroke-width="1.50" />
<line x1="644.00" y1="143.00" x2="680.80" y2="143.00" stroke="#000" stroke-width="1.50" />
<path d="M654.6 94.3V70.2M647.3 77.6L654.6 69.4L661.9 77.6" fill="none" stroke="#000" stroke-width="1.8"/>
<path d="M654.6 138.9V115.0M647.3 122.4L654.6 114.2L661.9 122.4" fill="none" stroke="#000" stroke-width="1.8"/>
<path d="M667.0 113.8V138.1M659.7 130.7L667.0 138.9L674.3 130.7" fill="none" stroke="#000" stroke-width="1.8"/>
<path d="M842.8 129.8L842.2 31.3M857.3 44.5L842.2 28.8L827.3 44.7" fill="none" stroke="#231f20" stroke-width="4.3" stroke-linejoin="miter"/>
<path d="M841.5 127.7L939.5 127.7M927.3 142.4L942.0 127.7L927.3 113.0" fill="none" stroke="#231f20" stroke-width="4.3" stroke-linejoin="miter"/>
<line x1="843.60" y1="127.70" x2="802.50" y2="167.80" stroke="#231f20" stroke-width="4.30" />
<path d="M802.6 147.5L802.6 167.6L822.8 167.6" fill="none" stroke="#231f20" stroke-width="4.3"/>
<path d="M918.3 79.5V143.0L847.6 128.6" fill="none" stroke="#3f2768" stroke-width="2.3" stroke-dasharray="4.8 3.3"/>
<line x1="844.43" y1="127.15" x2="905.18" y2="86.67" stroke="#3f2768" stroke-width="4.80" />
<polygon points="918.5,77.8 899.6,105.4 900.2,90.0 885.8,84.6" fill="#3f2768"/>
<path d="M843.4 75.3C858 76.5 873 84 883.0 97.5" fill="none" stroke="#0a9e76" stroke-width="2.7"/>
<path d="M875.3 78.2L883.2 97.8L865.0 87.0" fill="none" stroke="#0a9e76" stroke-width="2.7"/>
<path d="M819.2 154.3C842 168 878 173 900.4 140.8" fill="none" stroke="#0a9e76" stroke-width="2.7"/>
<path d="M884.4 153.7L900.6 140.5L895.2 161.0" fill="none" stroke="#0a9e76" stroke-width="2.7"/>
<text transform="translate(830.90,19.90) scale(1.070,1)" font-size="38.30" text-anchor="start" >z</text>
<text x="955.30" y="140.40" font-size="37.50" text-anchor="start" >y</text>
<text x="776.30" y="195.60" font-size="37.50" text-anchor="start" >x</text>
<text x="921.20" y="74.50" font-size="38.00" text-anchor="start" style="fill:#3f2768;stroke:#3f2768">B</text>
<text x="868.60" y="74.00" font-size="42.00" text-anchor="start" class="ser" style="fill:#0a9e76;stroke:none">θ</text>
<text x="862.80" y="192.80" font-size="38.00" text-anchor="start" class="ser" style="fill:#0a9e76;stroke:none" font-style="italic">ϕ</text>
</svg>
</body></html>
